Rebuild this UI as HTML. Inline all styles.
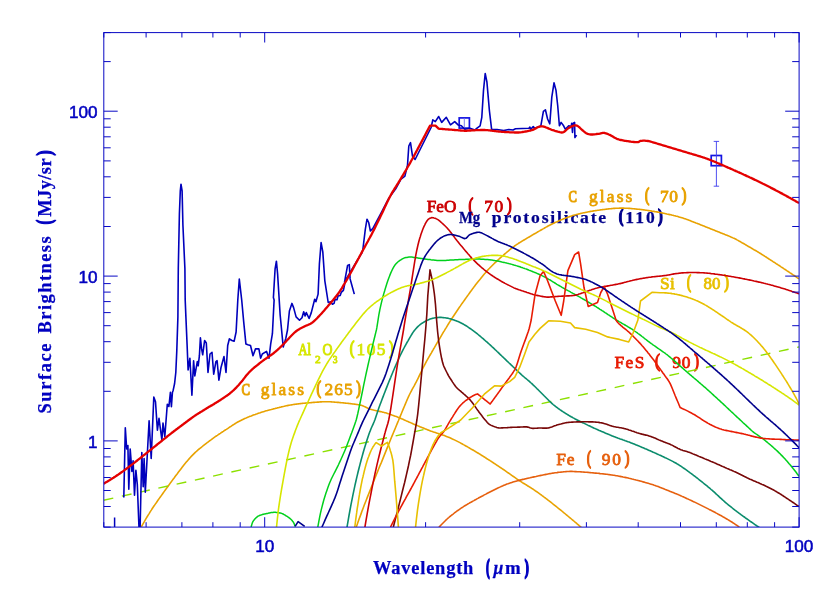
<!DOCTYPE html>
<html><head><meta charset="utf-8"><title>Surface Brightness vs Wavelength</title>
<style>html,body{margin:0;padding:0;background:#fff;}body{width:830px;height:593px;overflow:hidden;font-family:"Liberation Sans",sans-serif;}svg{display:block;}</style></head>
<body>
<svg width="830" height="593" viewBox="0 0 830 593">
<defs><clipPath id="pc"><rect x="103.8" y="32.6" width="695.3" height="494.5"/></clipPath></defs>
<rect width="830" height="593" fill="#ffffff"/>
<g style="opacity:0.999">
<text transform="translate(426.80,211.5) scale(0.990,1)" font-family="Liberation Serif, serif" font-size="17.4" font-weight="normal" fill="#cc0004" stroke="#cc0004" stroke-width="0.81" stroke-linejoin="round">FeO</text><text transform="translate(468.60,210.6) scale(0.750,1)" font-family="Liberation Serif, serif" font-size="19.0" font-weight="normal" fill="#cc0004" stroke="#cc0004" stroke-width="1.45" stroke-linejoin="round">(</text><text transform="translate(484.30,211.5) scale(1.000,1)" font-family="Liberation Serif, serif" font-size="17.4" font-weight="normal" fill="#cc0004" stroke="#cc0004" stroke-width="0.80" stroke-linejoin="round" letter-spacing="1.60">70</text><text transform="translate(507.00,210.6) scale(0.733,1)" font-family="Liberation Serif, serif" font-size="19.0" font-weight="normal" fill="#cc0004" stroke="#cc0004" stroke-width="1.50" stroke-linejoin="round">)</text>
<text transform="translate(458.93,222.9) scale(0.834,1)" font-family="Liberation Serif, serif" font-size="17.6" font-weight="bold" fill="#00008c" stroke="#00008c" stroke-width="0.32" stroke-linejoin="round">Mg</text><text transform="translate(491.82,222.9) scale(1.000,1)" font-family="Liberation Serif, serif" font-size="17.6" font-weight="bold" fill="#00008c" stroke="#00008c" stroke-width="0.25" stroke-linejoin="round" letter-spacing="1.82">protosilicate</text><text transform="translate(618.77,222.4) scale(0.742,1)" font-family="Liberation Serif, serif" font-size="19.2" font-weight="bold" fill="#00008c" stroke="#00008c" stroke-width="1.40" stroke-linejoin="round">(</text><text transform="translate(625.32,222.9) scale(1.000,1)" font-family="Liberation Serif, serif" font-size="17.6" font-weight="bold" fill="#00008c" stroke="#00008c" stroke-width="0.25" stroke-linejoin="round" letter-spacing="2.01">110</text><text transform="translate(658.08,222.4) scale(0.742,1)" font-family="Liberation Serif, serif" font-size="19.2" font-weight="bold" fill="#00008c" stroke="#00008c" stroke-width="1.40" stroke-linejoin="round">)</text>
<text transform="translate(568.60,201.8) scale(0.727,1)" font-family="Liberation Serif, serif" font-size="17.4" font-weight="normal" fill="#e8a200" stroke="#e8a200" stroke-width="1.21" stroke-linejoin="round">C</text><text transform="translate(588.90,201.8) scale(1.000,1)" font-family="Liberation Serif, serif" font-size="17.4" font-weight="normal" fill="#e8a200" stroke="#e8a200" stroke-width="0.80" stroke-linejoin="round" letter-spacing="2.17">glass</text><text transform="translate(645.00,200.9) scale(0.667,1)" font-family="Liberation Serif, serif" font-size="19.0" font-weight="normal" fill="#e8a200" stroke="#e8a200" stroke-width="1.69" stroke-linejoin="round">(</text><text transform="translate(659.90,201.8) scale(1.000,1)" font-family="Liberation Serif, serif" font-size="17.4" font-weight="normal" fill="#e8a200" stroke="#e8a200" stroke-width="0.80" stroke-linejoin="round" letter-spacing="0.70">70</text><text transform="translate(681.70,200.9) scale(0.733,1)" font-family="Liberation Serif, serif" font-size="19.0" font-weight="normal" fill="#e8a200" stroke="#e8a200" stroke-width="1.50" stroke-linejoin="round">)</text>
<text transform="translate(660.10,288.8) scale(1.000,1)" font-family="Liberation Serif, serif" font-size="17.4" font-weight="normal" fill="#e8c000" stroke="#e8c000" stroke-width="0.80" stroke-linejoin="round" letter-spacing="0.13">Si</text><text transform="translate(687.10,287.9) scale(0.633,1)" font-family="Liberation Serif, serif" font-size="19.0" font-weight="normal" fill="#e8c000" stroke="#e8c000" stroke-width="1.81" stroke-linejoin="round">(</text><text transform="translate(703.60,288.8) scale(0.972,1)" font-family="Liberation Serif, serif" font-size="17.4" font-weight="normal" fill="#e8c000" stroke="#e8c000" stroke-width="0.83" stroke-linejoin="round">80</text><text transform="translate(724.20,287.9) scale(0.733,1)" font-family="Liberation Serif, serif" font-size="19.0" font-weight="normal" fill="#e8c000" stroke="#e8c000" stroke-width="1.50" stroke-linejoin="round">)</text>
<text transform="translate(614.60,368.3) scale(1.000,1)" font-family="Liberation Serif, serif" font-size="17.4" font-weight="normal" fill="#e81c04" stroke="#e81c04" stroke-width="0.80" stroke-linejoin="round" letter-spacing="1.35">FeS</text><text transform="translate(655.10,367.4) scale(0.783,1)" font-family="Liberation Serif, serif" font-size="19.0" font-weight="normal" fill="#e81c04" stroke="#e81c04" stroke-width="1.37" stroke-linejoin="round">(</text><text transform="translate(672.20,368.3) scale(1.000,1)" font-family="Liberation Serif, serif" font-size="17.4" font-weight="normal" fill="#e81c04" stroke="#e81c04" stroke-width="0.80" stroke-linejoin="round" letter-spacing="0.90">90</text><text transform="translate(694.20,367.4) scale(0.733,1)" font-family="Liberation Serif, serif" font-size="19.0" font-weight="normal" fill="#e81c04" stroke="#e81c04" stroke-width="1.50" stroke-linejoin="round">)</text>
<text transform="translate(556.30,465.3) scale(1.000,1)" font-family="Liberation Serif, serif" font-size="17.4" font-weight="normal" fill="#e6600e" stroke="#e6600e" stroke-width="0.80" stroke-linejoin="round" letter-spacing="0.73">Fe</text><text transform="translate(587.10,464.4) scale(0.617,1)" font-family="Liberation Serif, serif" font-size="19.0" font-weight="normal" fill="#e6600e" stroke="#e6600e" stroke-width="1.87" stroke-linejoin="round">(</text><text transform="translate(601.80,465.3) scale(1.000,1)" font-family="Liberation Serif, serif" font-size="17.4" font-weight="normal" fill="#e6600e" stroke="#e6600e" stroke-width="0.80" stroke-linejoin="round" letter-spacing="1.80">90</text><text transform="translate(624.70,464.4) scale(0.733,1)" font-family="Liberation Serif, serif" font-size="19.0" font-weight="normal" fill="#e6600e" stroke="#e6600e" stroke-width="1.50" stroke-linejoin="round">)</text>
<text transform="translate(241.40,394.9) scale(0.736,1)" font-family="Liberation Serif, serif" font-size="17.4" font-weight="normal" fill="#e8a200" stroke="#e8a200" stroke-width="1.19" stroke-linejoin="round">C</text><text transform="translate(260.80,394.9) scale(1.000,1)" font-family="Liberation Serif, serif" font-size="17.4" font-weight="normal" fill="#e8a200" stroke="#e8a200" stroke-width="0.80" stroke-linejoin="round" letter-spacing="2.10">glass</text><text transform="translate(316.60,394.0) scale(0.733,1)" font-family="Liberation Serif, serif" font-size="19.0" font-weight="normal" fill="#e8a200" stroke="#e8a200" stroke-width="1.50" stroke-linejoin="round">(</text><text transform="translate(324.40,394.9) scale(1.000,1)" font-family="Liberation Serif, serif" font-size="17.4" font-weight="normal" fill="#e8a200" stroke="#e8a200" stroke-width="0.80" stroke-linejoin="round" letter-spacing="1.05">265</text><text transform="translate(356.30,394.0) scale(0.733,1)" font-family="Liberation Serif, serif" font-size="19.0" font-weight="normal" fill="#e8a200" stroke="#e8a200" stroke-width="1.50" stroke-linejoin="round">)</text>
<text transform="translate(298.60,354.5) scale(0.712,1)" font-family="Liberation Serif, serif" font-size="17.4" font-weight="normal" fill="#d6e600" stroke="#d6e600" stroke-width="1.24" stroke-linejoin="round">Al</text><text transform="translate(322.50,354.5) scale(0.792,1)" font-family="Liberation Serif, serif" font-size="17.4" font-weight="normal" fill="#d6e600" stroke="#d6e600" stroke-width="1.08" stroke-linejoin="round">O</text><text transform="translate(349.80,353.6) scale(0.733,1)" font-family="Liberation Serif, serif" font-size="19.0" font-weight="normal" fill="#d6e600" stroke="#d6e600" stroke-width="1.50" stroke-linejoin="round">(</text><text transform="translate(356.60,354.5) scale(1.000,1)" font-family="Liberation Serif, serif" font-size="17.4" font-weight="normal" fill="#d6e600" stroke="#d6e600" stroke-width="0.80" stroke-linejoin="round" letter-spacing="1.35">105</text><text transform="translate(389.10,353.6) scale(0.733,1)" font-family="Liberation Serif, serif" font-size="19.0" font-weight="normal" fill="#d6e600" stroke="#d6e600" stroke-width="1.50" stroke-linejoin="round">)</text>
<text transform="translate(314.90,362.9) scale(1.040,1)" font-family="Liberation Serif, serif" font-size="11.0" font-weight="normal" fill="#d6e600" stroke="#d6e600" stroke-width="0.80" stroke-linejoin="round">2</text><text transform="translate(332.80,362.9) scale(0.867,1)" font-family="Liberation Serif, serif" font-size="11.0" font-weight="normal" fill="#d6e600" stroke="#d6e600" stroke-width="0.96" stroke-linejoin="round">3</text>
</g>
<g fill="none">
<rect x="459.20" y="117.90" width="10.2" height="10.2" fill="none" stroke="#1414e2" stroke-width="1.7"/>
<path d="M464.3 118 V128" stroke="#7070ea" stroke-width="0.9"/>
<rect x="711.20" y="155.50" width="10.2" height="10.2" fill="none" stroke="#1414e2" stroke-width="1.7"/>
<path d="M716.4 141.4 V186.2 M713.7 141.4 h5.4 M713.7 186.2 h5.4" stroke="#3c3cee" stroke-width="0.9"/>
</g>
<g clip-path="url(#pc)" fill="none" stroke-linejoin="round" stroke-linecap="butt">
<path d="M141.3 526.9 L142.3 525.1 L143.3 523.4 L144.3 521.7 L145.3 519.9 L146.3 518.2 L147.3 516.5 L148.3 514.9 L149.3 513.3 L150.3 511.6 L151.3 510.1 L152.3 508.5 L153.3 507.0 L154.0 506.0 L154.3 505.6 L155.3 504.1 L156.3 502.7 L157.3 501.2 L158.3 499.8 L159.3 498.4 L160.3 497.0 L161.3 495.6 L162.3 494.2 L163.3 492.8 L164.3 491.4 L165.3 490.0 L166.3 488.6 L167.3 487.2 L168.3 485.9 L168.5 485.6 L169.3 484.5 L170.3 483.1 L171.3 481.8 L172.3 480.4 L173.3 479.0 L174.3 477.7 L175.3 476.3 L176.3 475.0 L177.3 473.7 L178.3 472.3 L179.3 471.0 L180.3 469.7 L181.3 468.4 L182.3 467.1 L182.6 466.7 L183.3 465.8 L184.3 464.5 L185.3 463.3 L186.3 462.1 L187.3 460.9 L188.3 459.7 L189.3 458.6 L190.3 457.5 L191.3 456.4 L192.3 455.4 L193.3 454.4 L194.3 453.4 L195.3 452.4 L196.3 451.5 L197.3 450.6 L198.3 449.7 L199.2 449.0 L199.3 448.9 L200.3 448.1 L201.3 447.3 L202.3 446.5 L203.3 445.7 L204.3 444.9 L205.3 444.1 L206.3 443.3 L207.3 442.5 L208.3 441.8 L209.3 441.0 L210.3 440.3 L211.3 439.6 L212.3 438.8 L213.3 438.1 L214.3 437.4 L215.3 436.7 L216.3 436.0 L217.3 435.4 L218.0 434.9 L218.3 434.7 L219.3 434.0 L220.3 433.4 L221.3 432.7 L222.3 432.0 L223.3 431.4 L224.3 430.7 L225.3 430.0 L226.3 429.4 L227.2 428.8 L227.3 428.7 L228.3 428.1 L229.3 427.4 L230.3 426.7 L231.3 426.1 L232.3 425.4 L233.3 424.8 L234.3 424.1 L234.5 424.0 L235.3 423.5 L236.3 422.9 L237.3 422.3 L238.3 421.7 L239.3 421.2 L240.3 420.7 L241.3 420.2 L241.7 420.0 L242.3 419.7 L243.3 419.2 L244.3 418.7 L245.3 418.3 L246.3 417.9 L247.3 417.4 L248.3 417.0 L248.9 416.8 L249.3 416.6 L250.3 416.2 L251.3 415.9 L252.3 415.5 L253.3 415.1 L254.3 414.7 L255.3 414.4 L256.3 414.0 L257.3 413.7 L258.3 413.3 L259.3 413.0 L260.3 412.7 L261.3 412.3 L262.3 412.0 L263.3 411.7 L263.4 411.7 L264.3 411.4 L265.3 411.1 L266.3 410.8 L267.3 410.6 L268.3 410.3 L269.3 410.0 L270.3 409.7 L271.3 409.5 L272.3 409.2 L273.3 408.9 L274.3 408.7 L275.3 408.4 L276.3 408.2 L277.3 407.9 L277.8 407.8 L278.3 407.7 L279.3 407.4 L280.3 407.2 L281.3 406.9 L282.3 406.7 L283.3 406.5 L284.3 406.3 L285.3 406.0 L286.3 405.8 L287.3 405.6 L288.3 405.4 L289.3 405.2 L290.3 405.0 L291.3 404.9 L292.3 404.7 L292.3 404.7 L293.3 404.5 L294.3 404.4 L295.3 404.3 L296.3 404.1 L297.3 404.0 L298.3 403.9 L299.3 403.8 L300.3 403.6 L301.3 403.5 L302.3 403.4 L303.3 403.3 L304.3 403.2 L305.3 403.1 L306.3 403.0 L306.7 403.0 L307.3 402.9 L308.3 402.9 L309.3 402.8 L310.3 402.7 L311.3 402.6 L312.3 402.5 L313.3 402.4 L314.3 402.4 L315.3 402.3 L316.3 402.2 L317.3 402.1 L318.3 402.1 L319.3 402.0 L320.3 401.9 L321.2 401.9 L321.3 401.9 L322.3 401.8 L323.3 401.8 L324.3 401.8 L325.3 401.7 L326.3 401.7 L327.3 401.7 L328.3 401.7 L329.3 401.8 L329.9 401.8 L330.3 401.8 L331.3 401.9 L332.3 402.0 L333.3 402.0 L334.3 402.1 L335.3 402.2 L336.3 402.3 L337.3 402.4 L338.3 402.4 L339.3 402.5 L340.0 402.6 L340.3 402.6 L341.3 402.7 L342.3 402.8 L343.3 402.9 L344.3 403.0 L345.3 403.1 L346.3 403.2 L347.3 403.3 L348.2 403.4 L348.3 403.4 L349.3 403.5 L350.3 403.6 L351.3 403.7 L352.3 403.9 L353.3 404.0 L354.3 404.1 L355.3 404.2 L356.3 404.4 L357.3 404.5 L358.3 404.7 L359.3 404.9 L360.0 405.0 L360.3 405.1 L361.4 405.3 L362.4 405.7 L363.4 406.1 L364.4 406.6 L365.4 407.0 L366.4 407.5 L367.4 408.0 L368.4 408.5 L369.4 408.9 L370.4 409.2 L370.6 409.3 L371.4 409.5 L372.4 409.8 L373.4 410.0 L374.4 410.3 L375.4 410.5 L376.4 410.7 L377.4 411.0 L378.4 411.2 L379.4 411.4 L380.4 411.6 L381.4 411.8 L382.4 412.1 L383.4 412.3 L384.4 412.6 L385.4 412.8 L386.4 413.1 L387.4 413.5 L387.5 413.5 L388.4 413.8 L389.4 414.1 L390.4 414.5 L391.4 414.8 L392.4 415.2 L393.4 415.5 L394.4 415.9 L395.4 416.3 L396.4 416.6 L397.4 417.0 L398.4 417.4 L399.4 417.8 L400.4 418.2 L401.0 418.5 L401.4 418.7 L402.4 419.1 L403.4 419.5 L404.4 420.0 L405.4 420.4 L406.4 420.9 L407.4 421.3 L408.4 421.7 L409.4 422.2 L410.4 422.6 L411.4 423.1 L412.4 423.5 L413.4 424.0 L414.4 424.4 L414.4 424.4 L415.4 424.8 L416.4 425.2 L417.4 425.6 L418.4 426.1 L419.4 426.5 L420.4 426.9 L421.4 427.3 L422.4 427.7 L423.4 428.1 L424.4 428.5 L425.4 428.9 L426.4 429.3 L427.4 429.7 L428.0 430.0 L428.4 430.1 L429.4 430.5 L430.4 430.9 L431.4 431.3 L432.4 431.6 L433.4 432.0 L434.4 432.3 L435.4 432.6 L436.4 432.9 L437.4 433.3 L438.4 433.6 L439.4 433.9 L440.4 434.2 L441.4 434.6 L442.4 434.9 L443.4 435.2 L444.4 435.6 L445.4 436.0 L446.4 436.4 L447.2 436.7 L447.4 436.8 L448.4 437.2 L449.4 437.6 L450.4 438.0 L451.4 438.5 L452.4 439.0 L453.4 439.4 L454.4 439.9 L455.4 440.4 L456.4 440.9 L457.4 441.4 L458.4 441.9 L459.4 442.4 L460.4 442.9 L461.4 443.5 L462.4 444.0 L463.4 444.6 L464.4 445.1 L465.4 445.7 L466.4 446.3 L467.4 446.8 L467.5 446.9 L468.4 447.4 L469.4 448.0 L470.4 448.6 L471.4 449.2 L472.4 449.7 L473.4 450.3 L474.4 450.9 L475.4 451.5 L476.4 452.1 L477.4 452.7 L478.4 453.3 L479.4 453.9 L480.4 454.5 L481.4 455.2 L482.4 455.8 L483.4 456.4 L484.3 457.0 L484.4 457.0 L485.4 457.7 L486.4 458.3 L487.4 459.0 L488.4 459.6 L489.4 460.2 L490.4 460.9 L491.4 461.5 L492.4 462.2 L493.4 462.8 L494.4 463.5 L495.4 464.1 L496.4 464.8 L497.4 465.5 L498.4 466.1 L499.4 466.8 L500.4 467.5 L501.2 468.0 L501.4 468.1 L502.4 468.8 L503.4 469.5 L504.4 470.2 L505.4 470.9 L506.4 471.6 L507.4 472.3 L508.4 473.0 L509.4 473.7 L510.4 474.4 L511.4 475.1 L512.4 475.8 L513.4 476.5 L514.4 477.2 L515.4 477.9 L516.4 478.6 L517.4 479.3 L518.1 479.8 L518.4 480.0 L519.4 480.7 L520.4 481.3 L521.4 481.9 L522.4 482.6 L523.4 483.2 L524.4 483.8 L525.4 484.4 L526.4 485.0 L527.4 485.7 L528.4 486.3 L529.4 486.9 L530.4 487.5 L531.4 488.1 L532.4 488.8 L533.4 489.4 L534.4 490.1 L535.0 490.5 L535.4 490.8 L536.4 491.5 L537.4 492.2 L538.4 492.9 L539.4 493.6 L540.4 494.3 L541.4 495.0 L542.4 495.8 L543.4 496.5 L544.4 497.3 L545.4 498.0 L546.4 498.8 L546.9 499.2 L547.4 499.6 L548.4 500.4 L549.4 501.1 L550.4 501.9 L551.4 502.7 L552.4 503.5 L553.4 504.3 L554.4 505.1 L555.4 505.9 L556.4 506.7 L557.4 507.5 L558.4 508.3 L559.4 509.1 L560.4 509.9 L561.4 510.7 L562.4 511.5 L563.4 512.3 L563.7 512.6 L564.4 513.2 L565.4 514.0 L566.4 514.8 L567.4 515.7 L568.4 516.5 L569.4 517.3 L570.4 518.2 L571.4 519.0 L572.4 519.8 L573.4 520.7 L574.4 521.5 L575.4 522.4 L576.4 523.2 L577.4 524.1 L578.4 524.9 L579.4 525.8 L580.4 526.6 L581.4 527.5" stroke="#e8a200" stroke-width="1.6" />
<path d="M356.2 527.2 L357.2 524.4 L358.2 521.6 L359.2 518.8 L360.2 516.1 L361.2 513.4 L362.2 510.6 L363.2 508.0 L364.2 505.3 L365.2 502.7 L366.2 500.2 L366.4 499.7 L367.2 497.6 L368.2 495.1 L369.2 492.6 L370.2 490.1 L371.2 487.6 L372.2 485.0 L373.2 482.5 L374.2 480.0 L375.2 477.5 L376.2 475.0 L377.2 472.5 L377.5 471.9 L378.2 470.0 L379.2 467.5 L380.2 465.1 L381.3 462.6 L382.3 460.1 L383.3 457.6 L384.3 455.1 L385.3 452.6 L386.3 450.1 L387.3 447.6 L388.3 445.2 L388.7 444.1 L389.3 442.7 L390.3 440.3 L391.3 437.8 L392.3 435.4 L393.3 433.0 L394.3 430.6 L395.3 428.2 L396.3 425.8 L397.3 423.4 L397.9 421.9 L398.3 421.0 L399.3 418.5 L400.3 416.1 L401.3 413.7 L402.3 411.3 L403.3 408.9 L404.3 406.5 L405.3 404.1 L406.3 401.7 L407.3 399.4 L407.7 398.5 L408.3 397.1 L409.3 395.0 L410.3 393.0 L411.3 391.1 L412.3 389.2 L413.3 387.4 L414.3 385.6 L415.3 383.7 L416.3 381.8 L416.9 380.7 L417.3 379.8 L418.3 377.8 L419.3 375.7 L420.3 373.6 L421.3 371.6 L422.3 369.5 L423.3 367.5 L424.3 365.5 L424.6 365.0 L425.3 363.6 L426.3 361.7 L427.3 359.9 L428.3 358.1 L429.3 356.3 L430.4 354.5 L431.4 352.8 L432.4 351.0 L433.4 349.3 L433.7 348.7 L434.4 347.6 L435.4 345.8 L436.4 344.1 L437.4 342.4 L438.4 340.7 L439.4 339.0 L440.4 337.3 L441.4 335.6 L442.4 333.9 L443.4 332.2 L444.4 330.6 L445.4 328.9 L446.4 327.3 L447.4 325.6 L448.4 324.0 L449.4 322.4 L450.4 320.8 L450.6 320.5 L451.4 319.3 L452.4 317.7 L453.4 316.2 L454.4 314.7 L455.4 313.2 L456.4 311.7 L457.4 310.2 L458.4 308.7 L459.4 307.3 L460.4 305.9 L461.4 304.4 L462.4 303.0 L463.4 301.6 L464.4 300.2 L465.4 298.8 L466.4 297.4 L467.4 296.0 L467.5 295.9 L468.4 294.6 L469.4 293.2 L470.4 291.8 L471.4 290.5 L472.4 289.1 L473.4 287.8 L474.4 286.4 L475.4 285.1 L476.4 283.8 L477.4 282.5 L478.4 281.2 L479.5 279.9 L480.5 278.7 L481.5 277.4 L482.5 276.2 L483.5 275.0 L484.3 274.0 L484.5 273.8 L485.5 272.7 L486.5 271.5 L487.5 270.4 L488.5 269.3 L489.5 268.3 L490.5 267.2 L491.5 266.2 L492.5 265.2 L493.5 264.2 L494.5 263.2 L495.5 262.3 L496.5 261.4 L497.5 260.4 L498.5 259.5 L499.5 258.6 L500.5 257.7 L501.2 257.1 L501.5 256.8 L502.5 256.0 L503.5 255.1 L504.5 254.2 L505.5 253.3 L506.5 252.5 L507.5 251.6 L508.5 250.8 L509.5 249.9 L510.5 249.1 L511.5 248.3 L512.5 247.5 L513.5 246.8 L514.5 246.0 L515.5 245.3 L516.5 244.6 L517.5 244.0 L518.1 243.6 L518.5 243.3 L519.5 242.7 L520.5 242.1 L521.5 241.5 L522.5 240.9 L523.5 240.3 L524.5 239.7 L525.5 239.1 L526.5 238.5 L527.5 237.9 L528.6 237.3 L529.6 236.7 L530.6 236.1 L531.6 235.5 L532.6 234.9 L533.6 234.3 L534.6 233.8 L535.0 233.5 L535.6 233.2 L536.6 232.6 L537.6 232.0 L538.6 231.4 L539.6 230.9 L540.6 230.3 L541.6 229.7 L542.6 229.1 L543.6 228.6 L544.6 228.0 L545.6 227.4 L546.6 226.9 L546.9 226.7 L547.6 226.3 L548.6 225.8 L549.6 225.3 L550.6 224.8 L551.6 224.3 L552.6 223.8 L553.6 223.3 L554.6 222.8 L555.6 222.3 L556.6 221.9 L557.0 221.7 L557.6 221.4 L558.6 221.0 L559.6 220.5 L560.6 220.1 L561.6 219.7 L562.6 219.3 L563.6 218.8 L564.6 218.5 L565.6 218.1 L566.6 217.7 L567.6 217.3 L568.6 217.0 L569.6 216.6 L570.0 216.5 L570.6 216.3 L571.6 216.0 L572.6 215.6 L573.6 215.3 L574.6 215.0 L575.6 214.8 L576.6 214.5 L577.6 214.2 L578.7 213.9 L579.7 213.7 L580.7 213.4 L581.7 213.2 L582.7 213.0 L583.7 212.8 L584.7 212.6 L585.0 212.5 L585.7 212.4 L586.7 212.2 L587.7 212.0 L588.7 211.8 L589.7 211.6 L590.7 211.4 L591.7 211.3 L592.7 211.1 L593.7 210.9 L594.7 210.8 L595.7 210.6 L596.7 210.5 L597.7 210.3 L598.7 210.2 L599.7 210.0 L600.0 210.0 L600.7 209.9 L601.7 209.8 L602.7 209.6 L603.7 209.5 L604.7 209.4 L605.7 209.2 L606.7 209.1 L607.7 209.0 L608.7 208.9 L609.7 208.8 L610.7 208.7 L611.7 208.6 L612.7 208.5 L613.7 208.4 L614.7 208.4 L615.7 208.3 L616.7 208.2 L617.7 208.2 L617.7 208.2 L618.7 208.2 L619.7 208.1 L620.7 208.1 L621.7 208.1 L622.7 208.1 L623.7 208.1 L624.7 208.2 L625.7 208.2 L626.7 208.2 L627.8 208.3 L628.8 208.4 L629.8 208.4 L630.8 208.5 L631.8 208.6 L632.8 208.7 L633.8 208.8 L634.8 208.9 L635.8 209.0 L636.8 209.1 L637.8 209.2 L638.0 209.2 L638.8 209.3 L639.8 209.4 L640.8 209.5 L641.8 209.6 L642.8 209.8 L643.8 209.9 L644.8 210.0 L645.8 210.2 L646.8 210.3 L647.8 210.5 L648.8 210.6 L649.8 210.7 L650.8 210.9 L651.8 211.1 L652.8 211.2 L653.8 211.4 L654.8 211.6 L655.8 211.7 L656.8 211.9 L657.8 212.1 L658.8 212.3 L659.8 212.5 L660.8 212.7 L661.8 212.9 L662.8 213.1 L663.3 213.2 L663.8 213.3 L664.8 213.5 L665.8 213.7 L666.8 214.0 L667.8 214.2 L668.8 214.4 L669.8 214.6 L670.8 214.8 L671.8 215.1 L672.8 215.3 L673.8 215.6 L674.8 215.8 L675.8 216.1 L676.9 216.3 L677.9 216.6 L678.9 216.9 L679.9 217.2 L680.9 217.5 L681.9 217.8 L682.9 218.1 L683.9 218.4 L684.9 218.7 L685.9 219.1 L686.9 219.4 L687.9 219.8 L688.6 220.1 L688.9 220.2 L689.9 220.6 L690.9 221.0 L691.9 221.4 L692.9 221.8 L693.9 222.2 L694.9 222.6 L695.9 223.0 L696.9 223.3 L697.9 223.7 L698.9 224.1 L699.9 224.5 L700.9 224.9 L701.9 225.3 L702.9 225.7 L703.9 226.1 L704.9 226.5 L705.9 226.9 L706.9 227.3 L707.9 227.7 L708.9 228.1 L709.9 228.5 L710.9 228.9 L711.9 229.3 L712.9 229.7 L713.9 230.1 L713.9 230.1 L714.9 230.5 L715.9 230.9 L716.9 231.3 L717.9 231.7 L718.9 232.1 L719.9 232.5 L720.9 232.9 L721.9 233.3 L722.9 233.7 L723.9 234.1 L724.9 234.5 L726.0 234.9 L727.0 235.3 L728.0 235.7 L729.0 236.1 L730.0 236.6 L730.8 236.9 L731.0 237.0 L732.0 237.4 L733.0 237.9 L734.0 238.3 L735.0 238.8 L736.0 239.3 L737.0 239.9 L738.0 240.4 L739.0 241.0 L740.0 241.5 L741.0 242.1 L742.0 242.7 L743.0 243.2 L744.0 243.8 L745.0 244.4 L746.0 245.0 L747.0 245.6 L747.7 246.0 L748.0 246.2 L749.0 246.8 L750.0 247.3 L751.0 247.9 L752.0 248.5 L753.0 249.1 L754.0 249.7 L755.0 250.2 L756.0 250.8 L757.0 251.4 L758.0 252.0 L759.0 252.6 L760.0 253.2 L761.0 253.8 L762.0 254.5 L763.0 255.1 L764.0 255.7 L764.6 256.1 L765.0 256.4 L766.0 257.0 L767.0 257.7 L768.0 258.3 L769.0 259.0 L770.0 259.6 L771.0 260.3 L772.0 260.9 L773.0 261.6 L774.0 262.2 L775.1 262.9 L776.1 263.6 L777.1 264.2 L778.1 264.9 L779.1 265.5 L780.1 266.2 L781.1 266.9 L781.4 267.1 L782.1 267.5 L783.1 268.2 L784.1 268.9 L785.1 269.5 L786.1 270.2 L787.1 270.9 L788.1 271.5 L789.1 272.2 L790.1 272.9 L791.1 273.5 L792.1 274.2 L793.1 274.9 L794.1 275.5 L795.1 276.2 L796.1 276.9 L797.1 277.6 L798.1 278.2 L799.1 278.9" stroke="#e8a200" stroke-width="1.6" />
<path d="M103.6 500.2 L799.2 346.9" stroke="#8ce000" stroke-width="1.4" stroke-dasharray="9.9 8.79"/>
<path d="M251.1 527.0 L251.6 525.2 L252.1 523.6 L252.6 522.2 L252.9 521.6 L253.1 521.3 L253.6 520.6 L254.1 519.9 L254.6 519.3 L255.1 518.7 L255.6 518.2 L256.1 517.7 L256.6 517.3 L257.1 516.9 L257.6 516.5 L258.1 516.2 L258.6 515.9 L259.1 515.7 L259.5 515.5 L259.6 515.5 L260.1 515.3 L260.6 515.1 L261.1 514.9 L261.6 514.8 L262.1 514.6 L262.6 514.5 L263.1 514.3 L263.6 514.2 L264.1 514.1 L264.6 514.0 L265.1 513.9 L265.6 513.8 L266.1 513.7 L266.6 513.6 L267.1 513.5 L267.6 513.4 L268.1 513.3 L268.6 513.1 L269.1 513.0 L269.6 512.9 L270.1 512.8 L270.6 512.7 L271.1 512.6 L271.6 512.6 L272.1 512.5 L272.6 512.4 L273.1 512.4 L273.6 512.3 L274.1 512.3 L274.6 512.3 L275.1 512.3 L275.6 512.3 L276.1 512.4 L276.6 512.4 L277.1 512.5 L277.6 512.5 L278.1 512.6 L278.6 512.7 L279.1 512.8 L279.6 512.9 L280.1 513.0 L280.6 513.1 L281.1 513.2 L281.6 513.4 L282.1 513.6 L282.6 513.8 L283.1 514.0 L283.6 514.3 L284.1 514.6 L284.6 514.9 L285.1 515.2 L285.6 515.5 L286.1 515.8 L286.6 516.1 L287.1 516.4 L287.6 516.7 L288.1 517.1 L288.6 517.4 L289.1 517.8 L289.6 518.2 L290.1 518.6 L290.6 519.0 L291.1 519.5 L291.4 519.8 L291.6 520.0 L292.1 520.5 L292.6 521.2 L293.1 521.8 L293.6 522.6 L293.8 523.0 L294.1 523.6 L294.6 524.9 L295.1 526.4" stroke="#00d01c" stroke-width="1.5" />
<path d="M317.8 527.2 L318.8 521.6 L319.8 516.4 L320.8 511.7 L321.0 510.9 L321.8 507.6 L322.8 503.7 L323.8 500.0 L324.8 496.7 L325.6 494.2 L325.8 493.6 L326.8 490.7 L327.8 487.8 L328.8 485.1 L329.8 482.5 L330.8 480.2 L331.2 479.3 L331.8 478.0 L332.8 476.0 L333.8 474.0 L334.8 472.1 L335.8 470.2 L336.8 468.2 L337.8 466.2 L338.6 464.5 L338.8 464.0 L339.8 461.9 L340.8 459.7 L341.8 457.5 L342.8 455.3 L343.8 453.0 L344.8 450.7 L345.8 448.3 L346.0 447.8 L346.8 445.7 L347.8 443.1 L348.8 440.5 L349.8 437.8 L350.8 435.1 L351.6 433.0 L351.8 432.4 L352.8 429.8 L353.8 427.1 L354.8 424.3 L355.8 421.3 L356.2 420.0 L356.8 417.7 L357.8 413.5 L358.8 408.8 L359.8 404.0 L360.5 400.8 L360.8 399.3 L361.8 394.5 L362.8 389.6 L363.8 384.7 L364.8 379.9 L365.8 375.1 L366.8 370.5 L367.2 368.8 L367.8 366.0 L368.8 361.7 L369.8 357.4 L370.8 353.1 L371.8 348.9 L372.3 346.9 L372.8 344.7 L373.8 340.5 L374.8 336.5 L375.8 332.4 L376.4 330.0 L376.8 327.9 L377.8 321.7 L378.8 315.2 L379.6 311.0 L379.8 309.9 L380.8 305.4 L381.8 301.2 L382.8 297.3 L383.8 293.6 L384.7 290.7 L384.8 290.2 L385.8 287.0 L386.8 283.8 L387.8 280.8 L388.8 278.0 L389.8 275.5 L389.8 275.4 L390.8 272.9 L391.8 270.7 L392.8 268.6 L393.8 266.8 L394.8 265.4 L394.8 265.3 L395.8 264.1 L396.8 263.0 L397.8 262.0 L398.9 261.2 L399.9 260.4 L399.9 260.4 L400.9 259.8 L401.9 259.2 L402.9 258.6 L403.9 258.1 L404.9 257.8 L404.9 257.8 L405.9 257.6 L406.9 257.4 L407.9 257.2 L408.9 257.1 L409.9 257.0 L410.9 257.0 L411.8 257.1 L411.9 257.1 L412.9 257.2 L413.9 257.4 L414.9 257.5 L415.9 257.7 L416.9 257.8 L417.9 258.0 L418.9 258.2 L419.9 258.3 L420.9 258.5 L421.9 258.6 L422.9 258.8 L423.9 258.9 L424.9 259.1 L425.3 259.1 L425.9 259.2 L426.9 259.3 L427.9 259.4 L428.9 259.5 L429.9 259.6 L430.9 259.8 L431.9 259.9 L432.9 260.0 L433.9 260.1 L434.9 260.2 L435.9 260.3 L436.9 260.4 L437.9 260.4 L438.9 260.5 L439.9 260.5 L440.9 260.5 L441.9 260.5 L442.2 260.5 L442.9 260.5 L443.9 260.4 L444.9 260.4 L445.9 260.4 L446.9 260.3 L447.9 260.3 L448.9 260.2 L449.9 260.1 L450.9 260.1 L451.9 260.0 L452.9 259.9 L453.9 259.9 L454.9 259.8 L455.9 259.8 L456.9 259.7 L457.9 259.7 L458.9 259.6 L459.0 259.6 L459.9 259.6 L460.9 259.5 L461.9 259.5 L462.9 259.4 L463.9 259.4 L464.9 259.4 L465.9 259.3 L466.9 259.3 L467.9 259.2 L468.9 259.2 L469.9 259.2 L470.9 259.1 L471.9 259.1 L472.5 259.1 L472.9 259.1 L473.9 259.1 L474.9 259.1 L475.9 259.1 L476.9 259.1 L477.9 259.1 L478.9 259.1 L479.9 259.1 L480.9 259.2 L481.9 259.2 L482.9 259.2 L483.9 259.3 L484.9 259.4 L485.9 259.4 L486.9 259.5 L487.7 259.6 L487.9 259.6 L488.9 259.7 L489.9 259.8 L490.9 260.0 L491.9 260.1 L492.9 260.2 L493.9 260.4 L494.9 260.6 L495.9 260.7 L496.9 260.9 L497.9 261.1 L498.9 261.3 L499.9 261.5 L500.9 261.7 L501.2 261.8 L501.9 262.0 L502.9 262.2 L503.9 262.4 L504.9 262.6 L505.9 262.9 L506.9 263.1 L507.9 263.4 L508.9 263.6 L509.9 263.9 L510.9 264.1 L511.9 264.4 L512.9 264.7 L513.9 265.0 L514.7 265.2 L514.9 265.3 L515.9 265.6 L516.9 265.9 L517.9 266.2 L518.9 266.5 L519.9 266.8 L520.9 267.2 L521.9 267.5 L522.9 267.9 L523.9 268.2 L524.9 268.6 L525.9 268.9 L526.9 269.3 L527.9 269.7 L528.2 269.8 L528.9 270.1 L529.9 270.5 L530.9 270.9 L531.9 271.3 L532.9 271.7 L533.9 272.1 L534.9 272.5 L535.9 272.9 L536.9 273.3 L537.9 273.8 L538.9 274.2 L539.9 274.7 L540.9 275.1 L541.9 275.6 L542.9 276.1 L543.9 276.6 L544.9 277.1 L545.9 277.7 L546.9 278.2 L546.9 278.2 L547.9 278.8 L548.9 279.4 L549.9 279.9 L550.9 280.5 L551.9 281.2 L552.9 281.8 L553.9 282.4 L554.9 283.0 L555.9 283.6 L556.9 284.3 L557.9 284.9 L559.0 285.5 L560.0 286.1 L561.0 286.7 L562.0 287.3 L563.0 287.9 L563.7 288.3 L564.0 288.4 L565.0 289.0 L566.0 289.6 L567.0 290.1 L568.0 290.7 L569.0 291.2 L570.0 291.7 L571.0 292.3 L572.0 292.8 L573.0 293.4 L574.0 293.9 L575.0 294.5 L576.0 295.0 L577.0 295.6 L578.0 296.1 L579.0 296.7 L580.0 297.2 L580.6 297.6 L581.0 297.8 L582.0 298.4 L583.0 299.0 L584.0 299.5 L585.0 300.1 L586.0 300.7 L587.0 301.3 L588.0 301.9 L589.0 302.5 L590.0 303.1 L591.0 303.7 L592.0 304.3 L593.0 304.9 L594.0 305.5 L595.0 306.1 L596.0 306.7 L597.0 307.4 L597.5 307.7 L598.0 308.0 L599.0 308.6 L600.0 309.3 L601.0 309.9 L602.0 310.6 L603.0 311.2 L604.0 311.9 L605.0 312.6 L606.0 313.2 L607.0 313.9 L608.0 314.6 L609.0 315.2 L610.0 315.9 L611.0 316.5 L612.0 317.2 L613.0 317.9 L614.0 318.5 L614.3 318.7 L615.0 319.1 L616.0 319.8 L617.0 320.4 L618.0 321.0 L619.0 321.6 L620.0 322.1 L621.0 322.7 L622.0 323.3 L623.0 323.9 L624.0 324.4 L625.0 325.0 L626.0 325.6 L627.0 326.2 L628.0 326.8 L629.0 327.4 L630.0 328.0 L631.0 328.6 L632.0 329.2 L633.0 329.9 L634.0 330.6 L634.6 331.0 L635.0 331.3 L636.0 332.0 L637.0 332.7 L638.0 333.5 L639.0 334.2 L640.0 334.9 L641.0 335.7 L642.0 336.5 L643.0 337.2 L644.0 338.0 L645.0 338.8 L646.0 339.5 L647.0 340.3 L648.0 341.1 L649.0 341.8 L650.0 342.6 L651.0 343.3 L651.4 343.6 L652.0 344.0 L653.0 344.8 L654.0 345.5 L655.0 346.2 L656.0 346.9 L657.0 347.6 L658.0 348.3 L659.0 349.0 L660.0 349.7 L661.0 350.4 L662.0 351.1 L663.0 351.8 L664.0 352.5 L665.0 353.2 L666.0 354.0 L667.0 354.7 L668.0 355.5 L669.0 356.3 L670.0 357.1 L670.0 357.1 L671.0 358.0 L672.0 358.8 L673.0 359.7 L674.0 360.5 L675.0 361.4 L676.0 362.3 L677.0 363.2 L678.0 364.1 L679.0 365.0 L680.0 365.8 L681.0 366.7 L682.0 367.6 L683.0 368.5 L684.0 369.4 L685.0 370.3 L685.3 370.5 L686.0 371.1 L687.0 372.0 L688.0 372.9 L689.0 373.7 L690.0 374.6 L691.0 375.4 L692.0 376.3 L693.0 377.1 L694.0 378.0 L695.0 378.8 L696.0 379.7 L697.0 380.5 L698.0 381.4 L699.0 382.3 L700.0 383.1 L701.0 384.0 L702.0 384.8 L703.0 385.7 L704.0 386.6 L705.0 387.4 L706.0 388.3 L707.0 389.2 L708.0 390.1 L709.0 391.0 L710.0 391.9 L710.6 392.4 L711.0 392.8 L712.0 393.7 L713.0 394.6 L714.0 395.6 L715.0 396.5 L716.0 397.4 L717.0 398.3 L718.0 399.3 L719.1 400.2 L720.1 401.1 L721.1 402.1 L722.1 403.0 L723.1 403.9 L724.1 404.9 L725.1 405.8 L726.1 406.8 L727.1 407.7 L728.1 408.6 L729.1 409.6 L730.1 410.5 L731.1 411.5 L732.1 412.4 L733.1 413.3 L734.1 414.3 L735.1 415.2 L735.9 416.0 L736.1 416.1 L737.1 417.1 L738.1 418.0 L739.1 418.9 L740.1 419.9 L741.1 420.8 L742.1 421.7 L743.1 422.7 L744.1 423.6 L745.1 424.5 L746.1 425.4 L747.1 426.4 L748.1 427.3 L749.1 428.2 L750.1 429.1 L751.0 430.0 L751.1 430.1 L752.1 431.0 L753.1 431.8 L754.1 432.6 L755.1 433.3 L756.1 434.0 L757.1 434.7 L758.1 435.4 L759.1 436.1 L760.1 436.8 L761.1 437.5 L762.1 438.2 L763.1 438.9 L764.1 439.7 L764.6 440.1 L765.1 440.5 L766.1 441.3 L767.1 442.1 L768.1 443.0 L769.1 443.8 L770.1 444.7 L771.1 445.5 L772.1 446.4 L773.1 447.3 L774.1 448.2 L775.1 449.1 L776.1 450.0 L777.1 450.9 L778.1 451.9 L778.1 451.9 L779.1 452.9 L780.1 453.8 L781.1 454.9 L782.1 455.9 L783.1 456.9 L784.1 458.0 L785.1 459.1 L786.1 460.2 L787.1 461.3 L788.1 462.5 L789.1 463.7 L789.9 464.6 L790.1 464.8 L791.1 466.0 L792.1 467.2 L793.1 468.5 L794.1 469.7 L795.1 471.0 L796.1 472.3 L797.1 473.7 L798.1 475.0 L799.1 476.4" stroke="#00d01c" stroke-width="1.5" />
<path d="M347.0 527.2 L348.0 521.3 L349.0 515.5 L350.0 510.0 L351.0 504.7 L351.6 501.6 L352.0 499.6 L353.0 494.6 L354.0 489.8 L355.0 485.1 L356.0 480.7 L357.0 476.4 L357.2 475.6 L358.0 472.3 L359.0 468.3 L360.0 464.4 L361.0 460.5 L362.0 456.9 L363.0 453.3 L364.0 449.8 L364.6 447.8 L365.0 446.4 L366.0 443.2 L367.0 440.0 L368.0 437.0 L369.0 434.1 L370.0 431.3 L370.1 431.1 L371.0 428.8 L372.0 426.5 L373.0 424.3 L374.0 422.0 L374.8 420.0 L375.0 419.4 L376.0 416.5 L377.0 413.4 L378.0 410.4 L379.0 407.6 L379.0 407.5 L380.0 404.8 L381.0 402.2 L382.0 399.5 L383.0 396.9 L384.0 394.3 L385.0 391.7 L386.0 389.1 L387.0 386.6 L388.0 384.0 L389.0 381.5 L390.0 379.1 L390.8 377.2 L391.0 376.6 L392.0 374.2 L393.0 371.8 L394.0 369.5 L395.0 367.1 L396.0 364.8 L397.0 362.6 L398.0 360.3 L399.0 358.2 L400.0 356.0 L401.0 354.0 L401.0 353.9 L402.0 351.9 L403.0 349.9 L404.0 348.0 L405.0 346.1 L406.0 344.3 L407.0 342.5 L408.0 340.8 L409.0 339.0 L409.4 338.4 L410.0 337.3 L411.0 335.6 L412.0 334.0 L413.0 332.4 L414.0 331.0 L415.0 329.7 L415.2 329.5 L416.1 328.5 L417.1 327.4 L418.1 326.4 L419.1 325.5 L420.1 324.7 L421.1 323.9 L422.1 323.2 L423.1 322.6 L424.1 322.0 L425.1 321.4 L425.3 321.3 L426.1 320.9 L427.1 320.4 L428.1 319.9 L429.1 319.5 L430.1 319.1 L431.1 318.7 L432.1 318.4 L433.0 318.2 L433.1 318.2 L434.1 318.0 L435.1 317.8 L436.1 317.7 L437.1 317.6 L438.1 317.5 L439.1 317.4 L440.1 317.4 L441.1 317.4 L442.0 317.5 L442.1 317.5 L443.1 317.6 L444.1 317.7 L445.1 317.8 L446.1 318.0 L447.1 318.1 L448.1 318.3 L449.1 318.6 L450.1 318.8 L451.1 319.1 L452.1 319.4 L453.1 319.7 L454.0 320.0 L454.1 320.0 L455.1 320.4 L456.1 320.8 L457.1 321.2 L458.1 321.6 L459.1 322.0 L460.1 322.5 L461.1 323.0 L462.1 323.5 L463.1 324.0 L464.1 324.6 L465.1 325.2 L466.1 325.8 L467.1 326.4 L467.5 326.7 L468.1 327.1 L469.1 327.8 L470.1 328.5 L471.1 329.2 L472.1 329.9 L473.1 330.6 L474.1 331.3 L475.1 332.1 L476.1 332.9 L477.1 333.7 L478.1 334.5 L479.1 335.3 L480.1 336.1 L481.0 336.9 L481.1 337.0 L482.1 337.9 L483.1 338.7 L484.1 339.6 L485.1 340.5 L486.1 341.4 L487.1 342.2 L488.1 343.1 L489.1 344.0 L490.1 344.9 L491.1 345.8 L492.1 346.8 L493.1 347.7 L494.1 348.6 L494.5 349.0 L495.1 349.6 L496.1 350.5 L497.1 351.5 L498.1 352.4 L499.1 353.4 L500.1 354.4 L501.1 355.3 L502.1 356.3 L503.1 357.2 L504.1 358.2 L505.1 359.1 L506.1 360.1 L507.1 361.1 L507.9 361.8 L508.1 362.0 L509.1 363.0 L510.1 363.9 L511.1 364.9 L512.1 365.8 L513.1 366.8 L514.1 367.7 L515.1 368.7 L516.1 369.6 L517.1 370.6 L518.1 371.5 L519.1 372.5 L520.1 373.4 L521.1 374.3 L521.4 374.6 L522.1 375.3 L523.1 376.2 L524.1 377.0 L525.1 377.9 L526.1 378.7 L527.1 379.5 L528.1 380.3 L529.1 381.2 L530.1 382.1 L531.1 383.0 L531.6 383.4 L532.1 383.9 L533.1 384.9 L534.1 385.8 L535.1 386.8 L536.1 387.8 L537.1 388.8 L538.1 389.7 L538.4 390.0 L539.1 390.7 L540.1 391.7 L541.1 392.7 L542.1 393.7 L543.1 394.7 L544.1 395.8 L545.1 396.8 L546.1 397.8 L547.1 398.8 L548.1 399.8 L549.1 400.8 L550.1 401.7 L550.2 401.8 L551.1 402.7 L552.1 403.6 L553.1 404.5 L554.2 405.4 L555.2 406.2 L556.2 407.0 L557.2 407.7 L558.2 408.5 L559.2 409.2 L560.2 409.9 L561.2 410.5 L562.0 411.1 L562.2 411.2 L563.2 411.9 L564.2 412.5 L565.2 413.1 L566.2 413.8 L567.2 414.4 L568.2 415.0 L569.2 415.6 L570.2 416.2 L571.2 416.8 L572.2 417.3 L573.2 417.9 L574.2 418.4 L575.2 419.0 L576.2 419.5 L577.2 420.0 L577.2 420.0 L578.2 420.5 L579.2 421.0 L580.2 421.5 L581.2 422.0 L582.2 422.5 L583.2 422.9 L584.2 423.4 L585.2 423.9 L586.2 424.4 L587.2 424.9 L588.2 425.4 L589.2 425.8 L590.2 426.3 L591.2 426.8 L592.2 427.2 L593.2 427.7 L594.2 428.2 L595.2 428.6 L596.2 429.1 L597.2 429.5 L598.2 429.9 L598.3 430.0 L599.2 430.4 L600.2 430.8 L601.2 431.3 L602.2 431.7 L603.2 432.1 L604.2 432.5 L605.2 433.0 L606.2 433.4 L607.2 433.8 L608.2 434.2 L609.2 434.6 L610.2 435.1 L611.2 435.5 L612.2 435.9 L613.2 436.3 L614.2 436.7 L614.3 436.7 L615.2 437.0 L616.2 437.4 L617.2 437.8 L618.2 438.2 L619.2 438.5 L620.2 438.9 L621.2 439.2 L622.2 439.6 L623.2 440.0 L624.2 440.3 L625.2 440.7 L626.2 441.0 L627.2 441.4 L628.2 441.8 L629.2 442.1 L630.2 442.5 L631.2 442.9 L631.2 442.9 L632.2 443.3 L633.2 443.7 L634.2 444.1 L635.2 444.5 L636.2 444.9 L637.2 445.3 L638.2 445.7 L639.2 446.1 L640.2 446.6 L641.2 447.0 L642.2 447.4 L643.2 447.8 L644.2 448.2 L645.2 448.7 L646.2 449.1 L647.2 449.5 L648.1 449.9 L648.2 450.0 L649.2 450.4 L650.2 450.8 L651.2 451.3 L652.2 451.7 L653.2 452.2 L654.2 452.6 L655.2 453.1 L656.2 453.5 L657.2 454.0 L658.2 454.4 L659.2 454.9 L660.2 455.3 L661.2 455.8 L662.2 456.3 L663.2 456.7 L663.4 456.8 L664.2 457.2 L665.2 457.7 L666.2 458.1 L667.2 458.6 L668.2 459.1 L669.2 459.6 L670.2 460.1 L671.2 460.6 L672.2 461.1 L673.2 461.6 L674.2 462.2 L675.2 462.7 L676.2 463.3 L676.9 463.7 L677.2 463.9 L678.2 464.5 L679.2 465.1 L680.2 465.8 L681.2 466.4 L682.2 467.1 L683.2 467.8 L684.2 468.5 L685.2 469.2 L686.2 469.9 L687.2 470.6 L688.2 471.4 L689.2 472.1 L690.2 472.9 L691.3 473.6 L692.3 474.4 L693.3 475.2 L693.7 475.5 L694.3 475.9 L695.3 476.7 L696.3 477.5 L697.3 478.2 L698.3 479.0 L699.3 479.8 L700.3 480.6 L701.3 481.4 L702.3 482.2 L703.3 483.0 L704.3 483.8 L705.3 484.6 L706.3 485.4 L707.3 486.2 L708.3 487.1 L709.3 487.9 L710.3 488.7 L710.6 489.0 L711.3 489.6 L712.3 490.4 L713.3 491.3 L714.3 492.2 L715.3 493.1 L716.3 494.1 L717.3 495.0 L718.3 495.9 L719.3 496.9 L720.3 497.8 L721.3 498.7 L722.3 499.6 L723.3 500.5 L724.3 501.4 L725.3 502.3 L726.3 503.2 L727.3 504.0 L727.5 504.2 L728.3 504.8 L729.3 505.6 L730.3 506.4 L731.3 507.2 L732.3 508.0 L733.3 508.8 L734.3 509.6 L735.3 510.4 L736.3 511.1 L737.3 511.9 L738.3 512.6 L739.3 513.4 L740.3 514.1 L741.3 514.9 L742.3 515.6 L743.3 516.3 L744.3 517.0 L745.2 517.7 L745.3 517.8 L746.3 518.5 L747.3 519.2 L748.3 519.9 L749.3 520.6 L750.3 521.3 L751.3 522.0 L752.3 522.7 L753.3 523.4 L754.3 524.1 L755.3 524.8 L756.3 525.5 L757.3 526.2 L758.3 526.8 L759.3 527.5" stroke="#0a8c6c" stroke-width="1.6" />
<path d="M393.3 527.2 L394.3 523.3 L395.3 519.4 L396.3 515.4 L397.4 511.5 L398.4 507.4 L399.4 503.4 L400.0 501.0 L400.4 499.4 L401.4 495.4 L402.4 491.3 L403.4 487.2 L404.5 483.0 L405.5 478.7 L406.5 474.4 L407.5 470.0 L408.4 466.0 L408.5 465.5 L409.5 460.6 L410.6 455.5 L411.6 450.1 L412.6 444.5 L413.6 438.9 L414.6 433.2 L415.2 430.0 L415.6 427.7 L416.6 421.8 L416.9 420.0 L417.7 414.1 L418.7 404.8 L419.7 394.4 L420.7 383.5 L421.7 372.6 L421.9 370.6 L422.7 361.9 L423.7 350.9 L424.8 339.5 L425.8 327.7 L426.4 320.0 L426.8 314.6 L427.8 295.9 L430.0 269.8 L432.0 279.0 L433.1 284.8 L434.3 293.4 L434.6 295.9 L435.5 304.7 L436.6 320.0 L437.6 331.5 L438.6 340.5 L438.8 341.9 L439.6 347.1 L440.6 353.1 L441.6 358.3 L442.6 362.6 L443.6 365.7 L443.9 366.4 L444.6 367.9 L445.6 370.0 L446.6 372.0 L447.6 374.0 L448.6 375.8 L449.6 377.5 L450.6 379.0 L450.6 379.0 L451.6 380.5 L452.6 382.1 L453.6 383.6 L454.6 385.1 L455.6 386.4 L456.6 387.6 L457.3 388.3 L457.6 388.6 L458.6 389.5 L459.6 390.4 L460.6 391.2 L461.6 392.1 L462.6 392.9 L463.6 393.8 L464.1 394.2 L464.6 394.7 L465.6 395.6 L466.6 396.5 L467.6 397.4 L468.6 398.4 L469.6 399.4 L470.0 399.8 L470.6 400.6 L471.6 401.8 L472.6 403.1 L473.7 404.5 L474.7 406.0 L475.7 407.4 L476.7 408.9 L477.7 410.3 L478.7 411.6 L478.7 411.7 L479.7 413.0 L480.7 414.3 L481.7 415.6 L482.7 416.9 L483.7 418.2 L484.7 419.4 L485.7 420.6 L486.7 421.8 L487.3 422.5 L487.7 422.9 L488.7 423.8 L489.7 424.5 L490.7 425.1 L491.7 425.6 L492.7 426.0 L493.7 426.3 L493.9 426.4 L494.7 426.7 L495.7 427.0 L496.7 427.4 L497.7 427.7 L498.7 427.9 L499.7 428.0 L500.4 428.0 L500.7 428.0 L501.7 427.9 L502.7 427.9 L503.7 427.8 L504.7 427.8 L505.7 427.7 L506.7 427.7 L507.7 427.6 L508.7 427.5 L509.7 427.5 L510.7 427.4 L511.7 427.4 L512.7 427.3 L513.4 427.3 L513.7 427.3 L514.7 427.2 L515.7 427.2 L516.7 427.2 L517.7 427.1 L518.7 427.1 L519.7 427.1 L520.7 427.0 L521.7 427.0 L522.7 427.0 L523.7 426.9 L524.7 426.9 L525.7 426.9 L526.4 426.9 L526.7 426.9 L527.7 427.1 L528.7 427.3 L529.7 427.7 L530.7 428.0 L531.7 428.3 L532.7 428.4 L532.9 428.4 L533.7 428.4 L534.7 428.3 L535.7 428.3 L536.7 428.2 L537.7 428.1 L538.7 428.0 L539.4 428.0 L539.7 428.0 L540.7 428.0 L541.7 428.0 L542.7 428.1 L543.7 428.1 L544.7 428.1 L545.8 428.1 L546.8 428.1 L547.8 428.0 L548.1 428.0 L548.8 427.9 L549.8 427.6 L550.8 427.3 L551.8 427.0 L552.8 426.6 L553.8 426.1 L554.8 425.7 L555.8 425.4 L556.7 425.1 L556.8 425.1 L557.8 424.8 L558.8 424.5 L559.8 424.2 L560.8 424.0 L561.8 423.7 L562.8 423.4 L563.8 423.2 L564.8 423.0 L565.8 422.8 L566.8 422.6 L567.6 422.5 L567.8 422.5 L568.8 422.4 L569.8 422.3 L570.8 422.2 L571.8 422.1 L572.8 422.1 L573.8 422.0 L574.8 422.0 L575.8 422.0 L576.8 421.9 L577.8 421.9 L578.4 421.9 L578.8 421.9 L579.8 421.9 L580.8 421.9 L581.8 421.8 L582.8 421.8 L583.8 421.8 L584.8 421.8 L585.8 421.8 L586.8 421.8 L587.8 421.8 L588.8 421.9 L589.8 421.9 L590.8 421.9 L591.4 421.9 L591.8 421.9 L592.8 421.9 L593.8 422.0 L594.8 422.0 L595.8 422.1 L596.8 422.2 L597.8 422.3 L598.8 422.4 L599.8 422.6 L600.8 422.7 L601.8 422.9 L602.3 423.0 L602.8 423.1 L603.8 423.4 L604.8 423.7 L605.8 424.0 L606.8 424.3 L607.8 424.7 L608.8 425.1 L609.8 425.4 L610.8 425.7 L611.8 426.1 L612.8 426.3 L613.1 426.4 L613.8 426.6 L614.8 426.8 L615.8 427.0 L616.8 427.2 L617.9 427.3 L618.9 427.5 L619.9 427.7 L620.9 427.8 L621.9 428.0 L622.9 428.2 L623.9 428.4 L624.9 428.7 L625.9 428.9 L626.1 429.0 L626.9 429.2 L627.9 429.5 L628.9 429.9 L629.9 430.2 L630.9 430.5 L631.9 430.9 L632.9 431.2 L633.9 431.6 L634.9 432.0 L635.9 432.3 L636.9 432.7 L637.9 433.0 L638.9 433.3 L639.2 433.4 L639.9 433.6 L640.9 433.9 L641.9 434.1 L642.9 434.4 L643.9 434.6 L644.9 434.9 L645.9 435.1 L646.9 435.3 L647.9 435.6 L648.9 435.9 L649.9 436.2 L650.9 436.5 L651.4 436.7 L651.9 436.9 L652.9 437.3 L653.9 437.7 L654.9 438.1 L655.9 438.5 L656.9 439.0 L657.9 439.4 L658.9 439.9 L659.9 440.3 L660.9 440.7 L661.6 441.0 L661.9 441.1 L662.9 441.5 L663.9 441.9 L664.9 442.3 L665.9 442.7 L666.9 443.1 L667.9 443.4 L668.9 443.8 L669.9 444.2 L670.1 444.3 L670.9 444.7 L671.9 445.1 L672.9 445.6 L673.9 446.2 L674.9 446.7 L675.9 447.3 L676.9 447.8 L677.9 448.4 L678.9 448.8 L679.9 449.3 L680.2 449.4 L680.9 449.7 L681.9 450.0 L682.9 450.4 L683.9 450.7 L684.9 451.0 L685.9 451.3 L686.9 451.6 L687.9 451.9 L688.9 452.2 L689.9 452.6 L690.4 452.8 L691.0 453.0 L692.0 453.4 L693.0 453.9 L694.0 454.3 L695.0 454.7 L696.0 455.1 L697.0 455.5 L698.0 455.9 L699.0 456.4 L700.0 456.8 L700.5 457.0 L701.0 457.2 L702.0 457.6 L703.0 458.0 L704.0 458.4 L705.0 458.9 L706.0 459.3 L707.0 459.7 L708.0 460.1 L709.0 460.5 L710.0 460.9 L710.6 461.2 L711.0 461.4 L712.0 461.8 L713.0 462.2 L714.0 462.6 L715.0 463.1 L716.0 463.5 L717.0 464.0 L718.0 464.4 L719.0 464.8 L720.0 465.3 L721.0 465.7 L722.0 466.2 L723.0 466.6 L724.0 467.1 L724.1 467.1 L725.0 467.5 L726.0 467.9 L727.0 468.4 L728.0 468.8 L729.0 469.2 L730.0 469.7 L731.0 470.1 L732.0 470.5 L733.0 470.9 L734.0 471.4 L735.0 471.8 L735.9 472.2 L736.0 472.2 L737.0 472.7 L738.0 473.2 L739.0 473.7 L740.0 474.2 L741.0 474.7 L742.0 475.2 L743.0 475.7 L744.0 476.3 L745.0 476.8 L746.0 477.3 L747.0 477.8 L747.7 478.1 L748.0 478.3 L749.0 478.7 L750.0 479.2 L751.0 479.6 L752.0 480.0 L753.0 480.5 L754.0 480.9 L755.0 481.3 L756.0 481.7 L757.0 482.2 L758.0 482.6 L759.0 483.0 L760.0 483.5 L761.0 483.9 L761.2 484.0 L762.0 484.4 L763.1 484.8 L764.1 485.3 L765.1 485.8 L766.1 486.3 L767.1 486.7 L768.1 487.2 L769.1 487.7 L770.1 488.2 L771.1 488.7 L772.1 489.3 L773.1 489.8 L774.1 490.3 L774.7 490.7 L775.1 490.9 L776.1 491.5 L777.1 492.1 L778.1 492.7 L779.1 493.3 L780.1 493.9 L781.1 494.5 L782.1 495.2 L783.1 495.8 L784.1 496.5 L785.1 497.1 L786.1 497.8 L787.1 498.5 L788.1 499.1 L788.2 499.2 L789.1 499.8 L790.1 500.5 L791.1 501.1 L792.1 501.8 L793.1 502.5 L794.1 503.2 L795.1 503.9 L796.1 504.6 L797.1 505.3 L798.1 506.0 L799.1 506.7" stroke="#780808" stroke-width="1.6" />
<path d="M364.9 527.2 L365.9 521.2 L366.9 515.4 L367.9 509.7 L368.9 504.2 L369.9 498.9 L370.1 497.9 L370.9 493.8 L371.9 488.7 L372.9 483.7 L373.9 478.9 L374.9 474.1 L375.9 469.6 L376.9 465.1 L377.5 462.6 L377.9 460.9 L378.9 456.8 L379.9 452.7 L380.9 448.8 L381.9 444.9 L382.9 441.0 L383.9 437.2 L384.9 433.3 L385.0 433.0 L385.9 429.8 L386.9 426.6 L387.9 423.2 L388.7 420.0 L388.9 419.0 L389.9 413.8 L390.9 407.8 L391.9 401.3 L392.5 397.5 L392.9 394.8 L393.9 388.1 L394.9 381.3 L395.9 374.6 L396.9 368.0 L397.6 363.7 L397.9 361.8 L398.9 356.0 L399.9 350.3 L400.9 344.8 L401.9 339.2 L402.9 333.5 L403.5 330.0 L403.9 327.4 L404.9 321.1 L405.1 320.0 L405.9 315.1 L406.9 309.3 L407.9 303.5 L408.9 297.7 L409.9 291.9 L410.1 290.8 L410.9 285.8 L411.9 279.5 L412.9 273.0 L413.9 266.6 L414.9 260.4 L415.2 258.8 L415.9 254.7 L416.9 249.7 L417.9 245.3 L418.9 241.3 L419.9 237.8 L420.2 236.9 L420.9 234.6 L421.9 231.7 L422.9 229.0 L423.9 226.6 L424.8 224.8 L424.9 224.5 L425.9 222.7 L426.9 221.0 L427.9 219.7 L428.5 219.2 L428.9 218.9 L429.9 218.3 L430.9 217.9 L431.9 217.6 L432.9 217.7 L433.6 217.8 L433.9 217.9 L434.9 218.2 L435.9 218.6 L436.9 219.1 L437.9 219.6 L438.9 220.3 L439.5 220.8 L439.9 221.2 L440.9 222.1 L441.9 223.0 L442.9 223.9 L443.9 224.8 L444.9 225.8 L445.9 226.8 L446.9 227.8 L447.9 228.9 L448.9 230.1 L449.9 231.3 L450.0 231.4 L450.9 232.6 L451.9 233.9 L452.9 235.2 L453.9 236.5 L454.9 237.9 L455.9 239.2 L456.9 240.5 L457.9 241.7 L458.1 241.9 L458.9 242.9 L459.9 244.2 L460.9 245.4 L461.9 246.6 L462.9 247.8 L463.9 249.0 L464.8 250.0 L464.9 250.2 L465.9 251.4 L466.9 252.5 L467.9 253.7 L468.9 254.8 L469.9 256.0 L470.9 257.1 L471.9 258.2 L472.5 258.8 L472.9 259.3 L474.0 260.4 L475.0 261.4 L476.0 262.4 L477.0 263.4 L478.0 264.3 L479.0 265.2 L480.0 266.1 L481.0 267.0 L482.0 267.9 L483.0 268.7 L484.0 269.5 L484.3 269.8 L485.0 270.3 L486.0 271.1 L487.0 271.9 L488.0 272.6 L489.0 273.4 L490.0 274.1 L491.0 274.8 L492.0 275.5 L493.0 276.2 L494.0 276.8 L495.0 277.5 L496.0 278.1 L496.1 278.2 L497.0 278.7 L498.0 279.3 L499.0 279.9 L500.0 280.5 L501.0 281.1 L502.0 281.7 L503.0 282.3 L504.0 282.8 L505.0 283.4 L506.0 283.9 L507.0 284.4 L507.9 284.9 L508.0 284.9 L509.0 285.4 L510.0 285.9 L511.0 286.4 L512.0 286.9 L513.0 287.4 L514.0 287.9 L515.0 288.3 L516.0 288.7 L517.0 289.1 L518.0 289.5 L518.1 289.5 L519.0 289.8 L520.0 290.1 L521.0 290.4 L522.0 290.8 L523.0 291.1 L524.0 291.4 L525.0 291.7 L526.0 292.0 L526.5 292.2 L527.0 292.4 L528.0 292.7 L529.0 293.1 L530.0 293.4 L531.0 293.8 L532.0 294.1 L533.0 294.4 L533.2 294.5 L534.0 294.7 L535.0 295.0 L536.0 295.2 L537.0 295.4 L538.0 295.6 L539.0 295.8 L540.0 296.0 L540.0 296.0 L541.0 296.2 L542.0 296.4 L543.0 296.6 L544.0 296.8 L545.0 296.9 L546.0 297.0 L547.0 297.1 L548.0 297.1 L548.6 297.1 L549.0 297.1 L550.0 297.0 L551.0 296.9 L552.0 296.9 L553.0 296.8 L554.0 296.7 L555.0 296.6 L556.0 296.5 L557.0 296.5 L558.0 296.4 L559.0 296.3 L560.0 296.2 L560.4 296.2 L561.0 296.2 L562.0 296.1 L563.0 296.1 L564.0 296.0 L565.0 296.0 L566.0 296.0 L567.0 295.9 L568.0 295.9 L569.0 295.9 L570.0 295.8 L571.0 295.7 L572.0 295.6 L573.0 295.5 L574.0 295.4 L575.0 295.2 L575.5 295.1 L576.0 295.0 L577.0 294.7 L578.0 294.5 L579.0 294.1 L580.0 293.8 L581.0 293.4 L582.0 293.0 L583.0 292.7 L584.0 292.3 L585.0 291.9 L585.7 291.7 L586.0 291.6 L587.0 291.3 L588.0 290.9 L589.0 290.6 L590.0 290.2 L591.0 289.9 L592.0 289.5 L593.0 289.2 L594.0 288.9 L595.0 288.6 L595.8 288.3 L596.0 288.2 L597.0 288.0 L598.0 287.7 L599.0 287.5 L600.0 287.3 L601.0 287.1 L602.0 287.0 L603.0 286.8 L604.0 286.6 L604.2 286.6 L605.0 286.4 L606.0 286.3 L607.0 286.1 L608.0 285.9 L609.0 285.7 L610.0 285.5 L611.0 285.3 L612.0 285.2 L613.0 285.0 L614.0 284.8 L615.0 284.6 L616.0 284.4 L617.0 284.2 L617.7 284.1 L618.0 284.0 L619.0 283.8 L620.0 283.6 L621.0 283.4 L622.0 283.1 L623.0 282.9 L624.0 282.6 L625.0 282.3 L626.0 282.1 L627.0 281.8 L628.0 281.5 L629.0 281.3 L630.0 281.0 L631.0 280.7 L632.0 280.5 L633.0 280.2 L634.0 280.0 L634.6 279.9 L635.0 279.8 L636.0 279.6 L637.0 279.4 L638.0 279.2 L639.0 279.0 L640.0 278.8 L641.0 278.6 L642.0 278.5 L643.0 278.3 L644.0 278.1 L645.0 278.0 L646.0 277.8 L647.0 277.6 L648.0 277.5 L649.0 277.3 L650.0 277.2 L651.0 277.1 L651.4 277.0 L652.0 276.9 L653.0 276.8 L654.0 276.7 L655.0 276.6 L656.0 276.5 L657.0 276.4 L658.0 276.3 L659.0 276.2 L660.0 276.1 L661.0 276.0 L662.0 275.9 L663.0 275.7 L664.0 275.6 L665.0 275.5 L665.0 275.5 L666.0 275.4 L667.0 275.2 L668.0 275.0 L669.0 274.9 L670.0 274.7 L671.0 274.5 L672.0 274.3 L673.0 274.1 L674.0 273.9 L675.0 273.8 L676.0 273.6 L676.9 273.5 L677.0 273.5 L678.0 273.4 L679.0 273.2 L680.0 273.1 L681.0 273.0 L682.0 272.9 L683.0 272.9 L684.0 272.8 L685.0 272.7 L686.0 272.7 L687.0 272.6 L688.0 272.6 L689.0 272.5 L690.0 272.5 L691.1 272.5 L692.1 272.5 L693.1 272.5 L693.7 272.5 L694.1 272.5 L695.1 272.5 L696.1 272.5 L697.1 272.6 L698.1 272.6 L699.1 272.6 L700.1 272.7 L701.1 272.7 L702.1 272.8 L703.1 272.8 L704.1 272.9 L705.1 273.0 L706.1 273.0 L707.1 273.1 L708.1 273.2 L709.1 273.3 L710.1 273.4 L710.6 273.5 L711.1 273.6 L712.1 273.7 L713.1 273.8 L714.1 273.9 L715.1 274.1 L716.1 274.2 L717.1 274.3 L718.1 274.5 L719.1 274.6 L720.1 274.8 L721.1 274.9 L722.1 275.0 L723.1 275.2 L724.1 275.3 L725.1 275.5 L726.1 275.7 L727.1 275.8 L727.5 275.9 L728.1 276.0 L729.1 276.2 L730.1 276.3 L731.1 276.5 L732.1 276.7 L733.1 276.8 L734.1 277.0 L735.1 277.2 L736.1 277.4 L737.1 277.5 L738.1 277.7 L739.1 277.9 L740.1 278.1 L741.1 278.3 L742.1 278.5 L743.1 278.7 L744.1 278.9 L744.3 278.9 L745.1 279.1 L746.1 279.3 L747.1 279.5 L748.1 279.7 L749.1 279.9 L750.1 280.1 L751.1 280.3 L752.1 280.5 L753.1 280.7 L754.1 281.0 L755.1 281.2 L756.1 281.4 L757.1 281.6 L758.1 281.9 L759.1 282.1 L760.1 282.3 L761.1 282.6 L761.2 282.6 L762.1 282.8 L763.1 283.0 L764.1 283.3 L765.1 283.5 L766.1 283.8 L767.1 284.0 L768.1 284.3 L769.1 284.5 L770.1 284.8 L771.1 285.1 L772.1 285.3 L773.1 285.6 L774.1 285.9 L775.1 286.2 L776.1 286.4 L777.1 286.7 L778.1 287.0 L778.1 287.0 L779.1 287.3 L780.1 287.6 L781.1 287.9 L782.1 288.2 L783.1 288.5 L784.1 288.8 L785.1 289.1 L786.1 289.4 L787.1 289.7 L788.1 290.1 L789.1 290.4 L790.1 290.7 L791.1 291.0 L792.1 291.4 L793.1 291.7 L794.1 292.1 L795.1 292.4 L796.1 292.7 L797.1 293.1 L798.1 293.4 L799.1 293.8" stroke="#cc0004" stroke-width="1.6" />
<path d="M390.5 527.2 L391.5 525.2 L392.5 523.2 L393.5 521.2 L394.5 519.2 L395.5 517.2 L396.5 515.3 L397.5 513.3 L398.5 511.4 L399.5 509.5 L399.8 509.0 L400.5 507.7 L401.5 505.8 L402.5 504.0 L403.5 502.2 L404.5 500.4 L405.5 498.6 L406.5 496.7 L407.5 494.9 L408.5 493.1 L409.5 491.3 L410.5 489.5 L411.5 487.7 L412.5 485.8 L413.5 484.0 L413.5 484.0 L414.5 482.1 L415.5 480.2 L416.5 478.3 L417.5 476.5 L418.5 474.6 L419.5 472.7 L420.5 470.8 L421.5 468.9 L422.5 467.1 L423.5 465.2 L424.5 463.3 L425.5 461.4 L426.5 459.6 L427.0 458.7 L427.5 457.7 L428.5 455.8 L429.5 454.0 L430.5 452.1 L431.5 450.2 L432.5 448.4 L433.5 446.6 L434.6 444.7 L435.6 442.9 L436.6 441.1 L437.1 440.1 L437.6 439.3 L438.6 437.8 L439.6 436.5 L440.6 435.3 L441.6 434.1 L442.6 433.0 L443.6 431.7 L444.6 430.2 L444.7 430.0 L445.6 428.6 L446.6 426.9 L447.6 425.2 L448.6 423.4 L449.6 421.7 L450.6 420.1 L450.6 420.0 L451.6 418.4 L452.6 416.8 L453.6 415.1 L454.6 413.6 L455.6 412.0 L456.6 410.5 L457.3 409.4 L457.6 409.0 L458.6 407.6 L459.6 406.4 L460.6 405.3 L461.6 404.2 L462.6 403.2 L463.6 402.4 L464.6 401.5 L465.6 400.7 L466.6 400.0 L467.5 399.3 L467.6 399.2 L468.6 398.5 L469.6 397.8 L470.6 397.2 L471.6 396.6 L472.6 396.0 L473.6 395.5 L474.6 395.0 L475.6 394.6 L476.6 394.2 L477.6 393.9 L478.7 394.8 L479.7 395.6 L480.8 396.4 L481.8 397.3 L482.9 398.1 L483.9 399.0 L484.3 399.3 L484.9 399.8 L486.0 400.7 L487.1 401.5 L488.1 402.3 L489.1 403.2 L490.2 404.0 L491.2 402.6 L492.2 401.3 L493.2 399.9 L494.2 398.5 L495.2 397.1 L496.1 395.9 L496.2 395.8 L497.2 394.4 L498.2 393.0 L499.2 391.6 L500.2 390.2 L501.2 388.8 L502.2 387.4 L503.2 386.0 L504.2 384.7 L504.6 384.1 L505.2 383.3 L506.2 381.9 L507.2 380.6 L508.2 379.2 L509.2 377.9 L510.2 376.5 L511.2 375.1 L512.2 373.7 L513.2 372.2 L514.2 370.6 L514.7 369.8 L515.2 368.9 L516.2 366.6 L517.2 363.7 L518.2 360.6 L519.2 357.3 L520.2 354.0 L521.2 351.0 L521.4 350.4 L522.2 348.2 L523.2 345.5 L524.2 342.8 L525.2 340.1 L526.2 337.4 L527.2 334.6 L528.2 331.8 L529.2 328.5 L530.2 324.4 L531.2 320.0 L535.1 294.2 L540.1 275.7 L543.5 271.4 L546.9 279.0 L555.3 301.0 L561.2 315.3 L563.7 301.0 L567.9 270.6 L574.7 254.6 L578.6 252.0 L580.6 263.9 L584.0 287.5 L588.2 306.4 L597.5 302.6 L600.8 292.5 L604.2 286.6 L607.6 294.2 L612.6 309.4 L616.0 320.0 L617.0 321.6 L617.7 322.5 L618.0 322.8 L619.0 323.8 L620.0 324.7 L621.0 325.6 L622.0 326.4 L623.0 327.3 L624.0 328.1 L625.0 328.9 L626.0 329.7 L627.0 330.5 L628.0 331.4 L629.0 332.2 L630.0 333.2 L631.0 334.1 L631.2 334.3 L632.0 335.2 L633.1 336.2 L634.1 337.2 L635.1 338.2 L636.1 339.2 L637.1 340.3 L638.1 341.3 L639.1 342.4 L640.1 343.4 L641.1 344.5 L642.1 345.7 L643.1 346.8 L644.1 348.0 L644.7 348.7 L645.1 349.2 L646.1 350.4 L647.1 351.6 L648.1 352.9 L649.1 354.1 L650.1 355.4 L651.1 356.7 L652.1 358.0 L653.1 359.3 L654.1 360.6 L655.1 362.0 L656.1 363.4 L656.5 363.9 L657.1 364.8 L658.1 366.2 L659.1 367.6 L660.1 369.0 L661.1 370.4 L662.1 371.8 L663.1 373.2 L664.2 374.6 L664.9 375.7 L665.2 376.1 L666.2 377.5 L667.2 378.8 L668.2 380.3 L668.4 380.6 L669.2 381.8 L670.2 383.7 L671.2 385.9 L672.2 388.3 L673.2 390.8 L674.2 393.3 L675.2 395.8 L675.2 395.8 L676.2 398.1 L677.2 400.5 L678.2 402.8 L679.2 405.2 L680.2 407.6 L681.2 408.0 L682.2 408.5 L683.3 409.0 L684.3 409.4 L685.3 409.9 L686.3 410.4 L687.3 410.9 L688.3 411.4 L689.4 412.0 L690.4 412.5 L691.4 413.0 L692.4 413.6 L693.4 414.2 L693.7 414.3 L694.5 414.7 L695.5 415.3 L696.5 416.0 L697.5 416.6 L698.5 417.3 L699.6 417.9 L700.6 418.6 L701.6 419.3 L702.6 420.0 L703.6 420.6 L704.6 421.3 L705.7 421.9 L706.7 422.5 L707.2 422.8 L707.7 423.1 L708.7 423.6 L709.7 424.2 L710.8 424.7 L711.8 425.3 L712.8 425.8 L713.8 426.2 L714.8 426.7 L715.9 427.2 L716.9 427.6 L717.3 427.8 L717.9 428.0 L718.9 428.4 L719.9 428.8 L720.9 429.1 L722.0 429.5 L723.0 429.7 L724.0 430.0 L725.0 430.2 L726.0 430.4 L727.0 430.6 L728.0 430.8 L729.0 431.0 L730.0 431.2 L731.0 431.4 L732.0 431.6 L733.0 431.8 L734.0 432.0 L735.0 432.2 L736.0 432.4 L737.0 432.6 L738.0 432.8 L739.0 433.0 L740.0 433.2 L741.0 433.4 L741.0 433.4 L742.0 433.6 L743.0 433.8 L744.0 434.1 L745.0 434.3 L746.0 434.6 L747.0 434.8 L748.0 435.1 L749.0 435.3 L750.0 435.6 L751.0 435.9 L752.0 436.1 L753.0 436.4 L754.0 436.6 L755.0 436.9 L756.0 437.1 L757.0 437.3 L758.0 437.5 L759.0 437.7 L760.0 437.9 L761.0 438.1 L761.2 438.1 L762.1 438.2 L763.1 438.4 L764.1 438.5 L765.1 438.6 L766.1 438.7 L767.1 438.8 L768.1 438.8 L769.1 438.9 L770.1 439.0 L771.1 439.0 L772.1 439.1 L773.1 439.1 L774.1 439.1 L775.1 439.2 L776.1 439.2 L777.1 439.3 L778.1 439.3 L778.1 439.3 L779.1 439.3 L780.1 439.4 L781.1 439.4 L782.1 439.5 L783.1 439.5 L784.1 439.6 L785.1 439.6 L786.1 439.7 L787.1 439.7 L788.1 439.7 L789.1 439.8 L790.1 439.8 L791.1 439.9 L792.1 439.9 L793.1 439.9 L794.1 440.0 L795.1 440.0 L796.1 440.0 L797.1 440.1 L798.1 440.1 L799.1 440.1" stroke="#e81c04" stroke-width="1.6" />
<path d="M438.8 527.5 L439.8 526.4 L440.8 525.3 L441.8 524.2 L442.8 523.2 L443.8 522.2 L444.8 521.2 L445.8 520.2 L446.8 519.3 L447.8 518.3 L448.8 517.5 L449.8 516.6 L450.6 516.0 L450.8 515.8 L451.8 515.0 L452.8 514.3 L453.8 513.5 L454.8 512.7 L455.8 512.0 L456.8 511.2 L457.8 510.5 L458.8 509.8 L459.8 509.1 L460.8 508.4 L461.8 507.7 L462.8 507.1 L463.8 506.4 L464.8 505.8 L465.8 505.2 L466.8 504.6 L467.5 504.2 L467.8 504.0 L468.9 503.4 L469.9 502.8 L470.9 502.3 L471.9 501.7 L472.9 501.1 L473.9 500.6 L474.9 500.0 L475.9 499.5 L476.9 498.9 L477.9 498.4 L478.9 497.8 L479.9 497.3 L480.9 496.7 L481.9 496.2 L482.9 495.7 L483.9 495.1 L484.3 494.9 L484.9 494.6 L485.9 494.1 L486.9 493.5 L487.9 493.0 L488.9 492.5 L489.9 492.0 L490.9 491.5 L491.9 491.0 L492.9 490.5 L493.9 490.0 L494.9 489.5 L495.9 489.0 L496.9 488.5 L497.9 488.0 L498.9 487.6 L499.9 487.1 L500.9 486.6 L501.2 486.5 L501.9 486.2 L502.9 485.8 L503.9 485.3 L504.9 484.9 L505.9 484.5 L506.9 484.1 L507.9 483.8 L508.9 483.4 L509.9 483.1 L510.9 482.7 L511.9 482.4 L512.9 482.1 L513.9 481.8 L514.9 481.5 L515.9 481.2 L516.9 480.9 L517.9 480.6 L518.1 480.6 L518.9 480.4 L519.9 480.1 L520.9 479.9 L521.9 479.6 L522.9 479.4 L523.9 479.2 L524.9 478.9 L525.9 478.7 L526.9 478.4 L527.9 478.2 L529.0 478.0 L530.0 477.8 L531.0 477.5 L531.6 477.4 L532.0 477.3 L533.0 477.1 L534.0 476.9 L535.0 476.7 L536.0 476.5 L537.0 476.2 L538.0 476.0 L539.0 475.8 L540.0 475.6 L541.0 475.4 L542.0 475.2 L543.0 475.0 L544.0 474.8 L545.0 474.6 L546.0 474.4 L546.9 474.2 L547.0 474.2 L548.0 474.0 L549.0 473.8 L550.0 473.6 L551.0 473.5 L552.0 473.3 L553.0 473.1 L554.0 473.0 L555.0 472.8 L556.0 472.7 L557.0 472.6 L558.0 472.4 L559.0 472.3 L560.0 472.2 L561.0 472.1 L562.0 472.0 L563.0 471.9 L563.7 471.8 L564.0 471.8 L565.0 471.7 L566.0 471.6 L567.0 471.5 L568.0 471.5 L569.0 471.5 L570.0 471.4 L571.0 471.4 L572.0 471.4 L573.0 471.5 L573.9 471.5 L574.0 471.5 L575.0 471.6 L576.0 471.6 L577.0 471.7 L578.0 471.7 L579.0 471.8 L580.0 471.8 L581.0 471.9 L582.0 472.0 L583.0 472.0 L584.0 472.1 L585.0 472.2 L586.0 472.3 L587.0 472.3 L588.0 472.4 L589.0 472.5 L589.0 472.5 L590.1 472.6 L591.1 472.7 L592.1 472.8 L593.1 472.9 L594.1 473.0 L595.1 473.1 L596.1 473.1 L597.1 473.2 L598.1 473.3 L599.1 473.4 L600.1 473.6 L601.1 473.7 L602.1 473.8 L603.1 473.9 L604.1 474.0 L605.1 474.1 L605.9 474.2 L606.1 474.2 L607.1 474.3 L608.1 474.5 L609.1 474.6 L610.1 474.7 L611.1 474.9 L612.1 475.0 L613.1 475.2 L614.1 475.3 L615.1 475.5 L616.1 475.7 L617.1 475.8 L618.1 476.0 L619.1 476.2 L620.1 476.4 L621.1 476.6 L622.1 476.8 L622.8 476.9 L623.1 477.0 L624.1 477.2 L625.1 477.4 L626.1 477.6 L627.1 477.8 L628.1 478.0 L629.1 478.3 L630.1 478.5 L631.1 478.7 L632.1 479.0 L633.1 479.2 L634.1 479.5 L635.1 479.7 L636.1 480.0 L637.1 480.2 L638.1 480.5 L639.1 480.8 L639.6 480.9 L640.1 481.0 L641.1 481.3 L642.1 481.6 L643.1 481.9 L644.1 482.1 L645.1 482.4 L646.1 482.7 L647.1 483.0 L648.1 483.3 L649.1 483.6 L650.2 483.9 L651.2 484.2 L652.2 484.5 L653.2 484.8 L654.2 485.2 L655.2 485.5 L656.2 485.9 L656.5 486.0 L657.2 486.2 L658.2 486.6 L659.2 487.0 L660.2 487.4 L661.2 487.8 L662.2 488.2 L663.2 488.6 L664.2 489.0 L665.0 489.3 L665.2 489.4 L666.2 489.8 L667.2 490.2 L668.2 490.6 L669.2 491.0 L670.2 491.4 L671.2 491.8 L672.2 492.2 L673.2 492.6 L674.2 493.0 L675.2 493.4 L676.2 493.8 L676.9 494.1 L677.2 494.2 L678.2 494.6 L679.2 495.1 L680.2 495.5 L681.2 495.9 L682.2 496.4 L683.2 496.8 L684.2 497.3 L685.2 497.7 L686.2 498.2 L687.2 498.7 L688.2 499.1 L689.2 499.6 L690.2 500.1 L691.2 500.5 L692.2 501.0 L693.2 501.5 L693.7 501.7 L694.2 501.9 L695.2 502.4 L696.2 502.9 L697.2 503.4 L698.2 503.9 L699.2 504.4 L700.2 504.9 L701.2 505.4 L702.2 505.9 L703.2 506.4 L704.2 506.9 L705.2 507.4 L706.2 507.9 L707.2 508.4 L708.2 508.9 L709.2 509.4 L710.3 509.9 L710.6 510.1 L711.3 510.4 L712.3 511.0 L713.3 511.5 L714.3 512.0 L715.3 512.5 L716.3 513.1 L717.3 513.6 L718.3 514.2 L719.3 514.7 L720.3 515.3 L721.3 515.8 L722.3 516.4 L723.3 517.0 L724.3 517.5 L725.3 518.1 L726.3 518.7 L727.3 519.3 L727.5 519.4 L728.3 519.9 L729.3 520.5 L730.3 521.1 L731.3 521.7 L732.3 522.3 L733.3 523.0 L734.3 523.6 L735.3 524.3 L736.3 525.0 L737.3 525.6 L738.3 526.3 L739.3 527.0" stroke="#e6600e" stroke-width="1.6" />
<path d="M354.8 527.2 L355.3 523.1 L355.8 519.2 L356.3 515.4 L356.7 512.7 L356.8 511.7 L357.3 508.1 L357.9 504.6 L358.4 501.2 L358.9 497.9 L359.4 494.9 L359.5 494.2 L359.9 492.0 L360.4 489.1 L360.9 486.4 L361.4 483.8 L361.9 481.3 L362.4 478.9 L363.0 476.7 L363.2 475.6 L363.5 474.5 L364.0 472.4 L364.5 470.3 L365.0 468.4 L365.5 466.5 L366.0 464.6 L366.5 462.9 L367.0 461.2 L367.5 459.7 L367.8 458.9 L368.0 458.2 L368.6 456.8 L369.1 455.4 L369.6 454.1 L370.1 452.8 L370.6 451.7 L371.1 450.5 L371.6 449.5 L372.1 448.5 L372.5 447.8 L372.6 447.6 L373.1 446.7 L373.7 445.9 L374.2 445.1 L374.7 444.4 L375.2 443.7 L375.7 443.1 L376.2 442.6 L381.7 446.0 L387.3 442.3 L387.8 443.4 L388.3 444.6 L388.8 445.9 L389.3 447.3 L389.8 448.8 L390.1 449.7 L390.3 450.4 L390.8 452.0 L391.3 453.6 L391.8 455.5 L392.3 457.8 L392.9 460.5 L392.9 460.8 L393.4 464.6 L393.9 470.5 L394.4 477.1 L394.7 481.2 L394.9 483.1 L395.4 488.9 L395.9 494.8 L396.4 500.8 L396.6 503.5 L396.9 507.1 L397.4 513.6 L397.9 520.3 L398.4 527.2" stroke="#e8c000" stroke-width="1.6" />
<path d="M415.5 527.5 L416.5 518.4 L417.5 510.2 L418.5 503.1 L418.6 502.5 L419.5 496.8 L420.5 490.9 L421.5 485.4 L422.5 480.4 L423.5 475.8 L423.6 475.5 L424.5 471.5 L425.5 467.4 L426.5 463.5 L427.6 459.8 L428.6 456.4 L429.5 453.6 L429.6 453.4 L430.6 450.7 L431.6 448.1 L432.6 445.7 L433.6 443.5 L434.6 441.5 L435.4 440.1 L435.6 439.8 L436.6 438.2 L437.6 436.7 L438.6 435.2 L439.6 434.0 L440.6 433.0 L441.3 432.5 L441.6 432.3 L442.6 431.7 L443.6 431.1 L444.6 430.5 L445.6 430.0 L446.6 429.4 L447.6 428.7 L448.0 428.5 L448.6 428.1 L449.7 427.4 L450.7 426.7 L451.7 426.1 L452.7 425.4 L453.7 424.8 L454.7 424.1 L455.7 423.4 L456.7 422.8 L457.7 422.1 L458.7 421.4 L459.7 420.7 L460.7 420.0 L472.5 407.7 L484.3 394.2 L494.5 385.8 L501.2 386.1 L509.6 381.6 L514.7 377.3 L519.7 367.2 L524.8 353.7 L529.0 341.9 L534.9 334.3 L540.1 328.4 L548.6 320.8 L560.4 321.3 L570.5 323.0 L574.7 327.6 L585.7 329.3 L597.5 332.6 L607.6 336.9 L619.4 339.4 L628.7 341.9 L632.9 333.5 L637.9 320.0 L640.5 301.0 L652.3 292.2 L660.0 292.7 L661.0 292.7 L662.0 292.7 L663.0 292.8 L664.0 292.8 L665.0 292.9 L666.0 292.9 L667.0 293.0 L668.0 293.1 L669.0 293.2 L670.0 293.3 L671.0 293.4 L672.0 293.6 L673.0 293.7 L673.5 293.8 L674.0 293.9 L675.0 294.1 L676.0 294.2 L677.0 294.4 L678.0 294.7 L679.0 294.9 L680.0 295.1 L681.0 295.4 L682.0 295.6 L683.0 295.9 L684.0 296.2 L685.0 296.5 L686.0 296.8 L687.0 297.1 L687.0 297.1 L688.0 297.4 L689.0 297.8 L690.0 298.1 L691.0 298.4 L692.0 298.8 L693.0 299.2 L694.0 299.6 L695.0 299.9 L696.0 300.4 L697.0 300.8 L698.0 301.2 L699.0 301.7 L700.0 302.2 L701.0 302.7 L702.0 303.2 L703.0 303.7 L703.9 304.2 L704.0 304.3 L705.0 304.9 L706.0 305.4 L707.0 306.0 L708.0 306.6 L709.0 307.3 L710.0 307.9 L711.0 308.5 L712.0 309.1 L713.0 309.8 L714.0 310.4 L715.0 311.1 L716.0 311.8 L717.0 312.4 L717.3 312.6 L718.0 313.1 L719.0 313.8 L720.0 314.5 L721.0 315.2 L722.0 315.8 L723.0 316.5 L724.0 317.2 L725.0 317.9 L726.0 318.6 L727.0 319.3 L728.0 320.0 L729.0 320.7 L730.1 321.4 L730.8 321.9 L731.1 322.1 L732.1 322.7 L733.1 323.3 L734.1 324.0 L735.1 324.5 L736.1 325.1 L737.1 325.7 L738.1 326.3 L739.1 326.8 L740.1 327.4 L741.1 328.0 L742.1 328.6 L743.1 329.2 L744.1 329.8 L744.3 330.0 L745.1 330.5 L746.1 331.2 L747.1 331.9 L748.1 332.7 L749.1 333.5 L750.1 334.3 L751.1 335.2 L752.1 336.1 L753.1 337.0 L754.1 338.0 L755.1 339.0 L756.1 340.0 L757.1 341.0 L757.8 341.8 L758.1 342.1 L759.1 343.2 L760.1 344.3 L761.1 345.5 L762.1 346.6 L763.1 347.8 L764.1 349.1 L765.1 350.3 L766.1 351.6 L767.1 352.9 L768.1 354.3 L769.1 355.6 L770.1 357.0 L771.1 358.4 L771.3 358.7 L772.1 359.8 L773.1 361.2 L774.1 362.7 L775.1 364.1 L776.1 365.6 L777.1 367.1 L778.1 368.6 L779.1 370.1 L780.1 371.6 L781.1 373.1 L782.1 374.7 L783.1 376.2 L784.1 377.8 L784.8 378.9 L785.1 379.4 L786.1 380.9 L787.1 382.5 L788.1 384.2 L789.1 385.8 L790.1 387.5 L791.1 389.2 L792.1 390.9 L793.1 392.6 L794.1 394.4 L794.9 395.8 L795.1 396.2 L796.1 398.0 L797.1 400.0 L798.1 402.1 L799.1 404.2" stroke="#e8c000" stroke-width="1.6" />
<path d="M276.5 527.2 L277.5 517.7 L278.5 509.2 L279.3 503.4 L279.5 502.1 L280.5 495.7 L281.5 489.7 L282.5 484.0 L283.0 481.2 L283.5 478.4 L284.5 472.9 L285.5 467.5 L286.5 462.3 L287.5 457.5 L287.6 457.1 L288.5 453.1 L289.5 449.0 L290.5 445.2 L291.5 441.8 L292.5 438.7 L293.2 436.7 L293.5 435.8 L294.5 433.1 L295.5 430.3 L296.5 427.7 L297.5 425.1 L298.5 422.7 L299.5 420.4 L299.7 420.0 L300.5 418.2 L301.5 416.0 L302.5 413.8 L303.5 411.6 L304.5 409.4 L305.5 407.2 L306.5 405.0 L307.5 402.9 L307.7 402.5 L308.5 400.7 L309.5 398.5 L310.5 396.4 L311.5 394.2 L312.5 392.1 L313.5 389.9 L314.5 387.8 L315.5 385.6 L316.5 383.5 L317.5 381.4 L318.5 379.3 L319.5 377.3 L320.6 375.2 L321.2 373.9 L321.6 373.2 L322.6 371.2 L323.6 369.4 L324.6 367.6 L325.6 365.8 L326.6 364.1 L327.6 362.5 L328.6 360.9 L329.6 359.4 L330.6 357.9 L331.6 356.4 L332.6 354.9 L333.6 353.5 L334.6 352.1 L334.7 351.9 L335.6 350.7 L336.6 349.3 L337.6 347.9 L338.6 346.5 L339.6 345.1 L340.6 343.7 L341.6 342.3 L342.6 340.9 L343.6 339.6 L344.6 338.2 L345.6 336.9 L346.6 335.5 L347.6 334.2 L348.6 332.8 L349.6 331.5 L350.6 330.2 L350.7 330.0 L351.6 328.8 L352.6 327.5 L353.6 326.2 L354.6 324.9 L355.6 323.6 L356.6 322.3 L357.6 321.0 L358.6 319.7 L359.6 318.5 L360.6 317.2 L361.6 316.0 L362.6 314.8 L363.6 313.6 L364.5 312.6 L364.6 312.5 L365.6 311.4 L366.6 310.3 L367.6 309.3 L368.6 308.3 L369.6 307.4 L370.6 306.5 L371.6 305.6 L372.6 304.8 L373.6 304.0 L374.6 303.2 L375.6 302.5 L376.6 301.7 L377.6 301.0 L377.9 300.8 L378.6 300.3 L379.6 299.6 L380.6 298.9 L381.6 298.2 L382.6 297.6 L383.6 296.9 L384.6 296.3 L385.6 295.7 L386.6 295.1 L387.6 294.5 L388.6 293.9 L389.6 293.4 L390.6 292.8 L391.4 292.4 L391.6 292.3 L392.6 291.8 L393.6 291.2 L394.6 290.7 L395.6 290.2 L396.6 289.7 L397.6 289.3 L398.6 288.8 L399.6 288.4 L400.6 288.0 L401.6 287.6 L402.6 287.2 L403.6 286.9 L404.6 286.6 L404.9 286.5 L405.6 286.3 L406.6 286.1 L407.7 285.8 L408.7 285.6 L409.7 285.5 L410.7 285.3 L411.7 285.1 L412.7 285.0 L413.7 284.8 L414.7 284.6 L415.7 284.4 L416.7 284.2 L416.9 284.1 L417.7 283.9 L418.7 283.7 L419.7 283.4 L420.7 283.1 L421.7 282.9 L422.7 282.6 L423.7 282.4 L424.7 282.1 L425.7 281.8 L426.7 281.5 L427.7 281.2 L428.7 280.9 L429.7 280.6 L430.7 280.2 L431.7 279.8 L432.7 279.4 L433.7 279.0 L433.7 279.0 L434.7 278.6 L435.7 278.1 L436.7 277.7 L437.7 277.2 L438.7 276.7 L439.7 276.2 L440.7 275.7 L441.7 275.2 L442.7 274.7 L443.7 274.2 L444.7 273.7 L445.7 273.2 L446.7 272.6 L447.7 272.1 L448.7 271.6 L449.7 271.1 L450.6 270.6 L450.7 270.5 L451.7 270.0 L452.7 269.5 L453.7 268.9 L454.7 268.4 L455.7 267.8 L456.7 267.2 L457.7 266.7 L458.7 266.1 L459.7 265.5 L460.7 265.0 L461.7 264.4 L462.7 263.9 L463.7 263.3 L464.7 262.8 L465.7 262.2 L466.7 261.7 L467.5 261.3 L467.7 261.2 L468.7 260.7 L469.7 260.3 L470.7 259.8 L471.7 259.4 L472.7 259.1 L473.7 258.7 L474.7 258.4 L475.7 258.1 L476.7 257.8 L477.7 257.6 L478.7 257.3 L479.7 257.1 L480.7 256.9 L481.0 256.8 L481.7 256.6 L482.7 256.4 L483.7 256.3 L484.7 256.1 L485.7 256.0 L486.7 255.8 L487.7 255.7 L488.7 255.6 L489.7 255.5 L490.7 255.5 L491.7 255.4 L492.7 255.4 L492.8 255.4 L493.7 255.4 L494.8 255.4 L495.8 255.4 L496.8 255.4 L497.8 255.4 L498.8 255.5 L499.8 255.5 L500.8 255.6 L501.8 255.8 L502.8 255.9 L503.8 256.1 L504.6 256.3 L504.8 256.3 L505.8 256.6 L506.8 256.8 L507.8 257.1 L508.8 257.4 L509.8 257.7 L510.8 258.0 L511.8 258.3 L512.8 258.6 L513.8 258.9 L514.8 259.3 L515.8 259.6 L516.8 260.0 L517.8 260.4 L518.1 260.5 L518.8 260.8 L519.8 261.2 L520.8 261.6 L521.8 261.9 L522.8 262.3 L523.8 262.7 L524.8 263.1 L525.8 263.5 L526.8 263.9 L527.8 264.3 L528.8 264.7 L529.8 265.2 L529.9 265.2 L530.8 265.6 L531.8 266.0 L532.8 266.4 L533.8 266.8 L534.8 267.1 L535.8 267.5 L536.8 267.9 L537.8 268.3 L538.8 268.7 L539.8 269.1 L540.8 269.6 L541.8 270.0 L542.8 270.4 L543.8 270.9 L544.8 271.3 L545.8 271.8 L546.8 272.3 L546.9 272.3 L547.8 272.7 L548.8 273.2 L549.8 273.7 L550.8 274.2 L551.8 274.7 L552.8 275.2 L553.8 275.7 L554.8 276.2 L555.8 276.7 L556.8 277.2 L557.8 277.7 L558.8 278.2 L559.8 278.8 L560.8 279.3 L561.8 279.8 L562.8 280.3 L563.7 280.7 L563.8 280.8 L564.8 281.3 L565.8 281.8 L566.8 282.3 L567.8 282.8 L568.8 283.3 L569.8 283.8 L570.8 284.3 L571.8 284.8 L572.8 285.3 L573.8 285.8 L574.8 286.3 L575.8 286.8 L576.8 287.3 L577.8 287.8 L578.8 288.3 L579.8 288.8 L580.6 289.2 L580.8 289.3 L581.9 289.8 L582.9 290.3 L583.9 290.7 L584.9 291.2 L585.9 291.6 L586.9 292.0 L587.9 292.5 L588.9 292.9 L589.9 293.3 L590.9 293.7 L591.9 294.1 L592.9 294.6 L593.9 295.0 L594.9 295.4 L595.9 295.9 L596.9 296.4 L597.5 296.7 L597.9 296.9 L598.9 297.4 L599.9 297.9 L600.9 298.4 L601.9 298.9 L602.9 299.4 L603.9 299.9 L604.9 300.4 L605.9 300.9 L606.9 301.4 L607.9 302.0 L608.9 302.5 L609.9 303.0 L610.9 303.5 L611.9 304.0 L612.9 304.5 L613.9 305.0 L614.3 305.2 L614.9 305.5 L615.9 306.0 L616.9 306.5 L617.9 307.0 L618.9 307.5 L619.9 308.0 L620.9 308.5 L621.9 309.0 L622.9 309.5 L623.9 310.0 L624.9 310.5 L625.9 311.0 L626.9 311.5 L627.9 312.0 L628.9 312.5 L629.9 313.0 L630.9 313.5 L631.2 313.6 L631.9 313.9 L632.9 314.4 L633.9 314.9 L634.9 315.4 L635.9 315.9 L636.9 316.3 L637.9 316.8 L638.9 317.3 L639.9 317.7 L640.9 318.2 L641.9 318.7 L642.9 319.2 L643.9 319.6 L644.7 320.0 L644.9 320.1 L645.9 320.6 L646.9 321.1 L647.9 321.6 L648.9 322.1 L649.9 322.6 L650.9 323.1 L651.9 323.6 L652.9 324.1 L653.9 324.6 L654.9 325.1 L655.9 325.6 L656.5 325.9 L656.9 326.1 L657.9 326.6 L658.9 327.0 L659.9 327.5 L660.9 327.9 L661.9 328.3 L662.9 328.7 L663.9 329.1 L664.9 329.6 L665.9 330.0 L666.9 330.4 L667.9 330.8 L669.0 331.3 L670.0 331.8 L670.0 331.8 L671.0 332.3 L672.0 332.8 L673.0 333.3 L674.0 333.8 L675.0 334.3 L676.0 334.8 L677.0 335.4 L678.0 335.9 L679.0 336.4 L680.0 337.0 L681.0 337.5 L682.0 338.1 L683.0 338.6 L684.0 339.2 L685.0 339.7 L686.0 340.2 L687.0 340.8 L688.0 341.3 L689.0 341.9 L690.0 342.4 L691.0 342.9 L692.0 343.4 L693.0 343.9 L693.7 344.3 L694.0 344.4 L695.0 344.9 L696.0 345.4 L697.0 345.9 L698.0 346.4 L699.0 346.9 L700.0 347.4 L701.0 347.8 L702.0 348.3 L703.0 348.8 L704.0 349.2 L705.0 349.7 L706.0 350.2 L707.0 350.6 L708.0 351.1 L709.0 351.5 L710.0 352.0 L711.0 352.5 L712.0 352.9 L713.0 353.4 L714.0 353.8 L715.0 354.3 L716.0 354.8 L717.0 355.2 L718.0 355.7 L719.0 356.2 L720.0 356.7 L721.0 357.1 L722.0 357.6 L723.0 358.1 L724.0 358.6 L725.0 359.1 L726.0 359.6 L727.0 360.1 L727.5 360.4 L728.0 360.7 L729.0 361.2 L730.0 361.7 L731.0 362.3 L732.0 362.8 L733.0 363.3 L734.0 363.9 L735.0 364.4 L736.0 365.0 L737.0 365.5 L738.0 366.1 L739.0 366.7 L740.0 367.2 L741.0 367.8 L742.0 368.4 L743.0 368.9 L744.0 369.5 L745.0 370.1 L746.0 370.7 L747.0 371.3 L748.0 371.9 L749.0 372.5 L750.0 373.0 L751.0 373.6 L752.0 374.2 L753.0 374.8 L754.0 375.4 L755.0 376.1 L756.1 376.7 L757.1 377.3 L758.1 377.9 L759.1 378.5 L760.1 379.1 L761.1 379.7 L761.2 379.8 L762.1 380.3 L763.1 380.9 L764.1 381.6 L765.1 382.2 L766.1 382.8 L767.1 383.4 L768.1 384.1 L769.1 384.7 L770.1 385.3 L771.1 385.9 L772.1 386.6 L773.1 387.2 L774.1 387.9 L775.1 388.5 L776.1 389.2 L777.1 389.8 L778.1 390.5 L779.1 391.1 L780.1 391.8 L781.1 392.4 L782.1 393.1 L783.1 393.7 L784.1 394.4 L784.8 394.9 L785.1 395.1 L786.1 395.8 L787.1 396.4 L788.1 397.1 L789.1 397.8 L790.1 398.5 L791.1 399.2 L792.1 399.9 L793.1 400.6 L794.1 401.4 L795.1 402.1 L796.1 402.8 L797.1 403.5 L798.1 404.3 L799.1 405.0" stroke="#d6e600" stroke-width="1.6" />
<path d="M295.1 526.4 L298.1 521.6 L304.7 526.4" stroke="#00008c" stroke-width="1.6" />
<path d="M321.9 527.2 L322.9 525.0 L323.9 522.7 L324.9 520.4 L325.9 518.2 L326.9 515.9 L327.5 514.6 L327.9 513.7 L328.9 511.5 L329.9 509.3 L330.9 507.1 L331.9 504.9 L332.9 502.7 L333.9 500.3 L334.9 497.9 L334.9 497.9 L335.9 495.2 L336.9 492.4 L337.9 489.4 L338.9 486.2 L339.9 483.1 L340.9 479.9 L341.9 476.8 L342.3 475.6 L342.9 473.8 L343.9 470.8 L344.9 467.7 L345.9 464.7 L346.9 461.7 L347.9 458.7 L348.9 455.7 L349.7 453.4 L349.9 452.8 L350.9 450.0 L351.9 447.3 L352.9 444.8 L353.9 442.5 L354.9 440.1 L355.9 437.8 L356.9 435.5 L357.2 434.8 L357.9 433.1 L358.9 430.7 L359.9 428.3 L360.9 425.9 L361.9 423.6 L362.9 421.4 L363.6 420.0 L363.9 419.4 L364.9 417.3 L365.9 415.3 L366.9 413.3 L367.9 411.3 L368.9 409.3 L369.9 407.3 L370.6 405.9 L370.9 405.3 L371.9 403.2 L372.9 401.2 L373.9 399.3 L374.9 397.3 L375.9 395.3 L376.9 393.3 L377.9 391.3 L378.9 389.3 L379.9 387.3 L380.9 385.3 L381.9 383.3 L382.4 382.3 L382.9 381.2 L383.9 378.9 L384.9 376.4 L385.9 373.7 L386.9 370.8 L387.9 367.8 L388.9 364.7 L389.9 361.5 L390.8 358.7 L390.9 358.3 L391.9 355.0 L392.9 351.6 L393.9 348.2 L394.9 344.7 L395.9 341.3 L396.9 337.9 L397.9 334.5 L398.9 331.2 L399.3 330.0 L399.9 328.0 L400.9 324.7 L401.9 321.5 L402.9 318.3 L403.9 315.2 L404.9 312.2 L405.0 312.0 L405.9 309.2 L406.9 306.3 L407.9 303.4 L408.9 300.4 L409.9 297.5 L410.1 297.0 L410.9 294.5 L411.9 291.6 L412.9 288.6 L413.9 285.7 L414.9 282.7 L415.9 279.8 L416.9 276.8 L417.9 273.9 L418.9 270.9 L419.9 268.0 L420.2 267.2 L420.9 265.1 L421.9 262.6 L422.9 260.3 L423.9 258.3 L424.9 256.5 L425.9 254.9 L426.9 253.4 L427.9 252.0 L428.9 250.6 L429.9 249.3 L430.4 248.7 L430.9 248.0 L431.9 246.7 L432.9 245.4 L433.9 244.2 L434.9 243.1 L435.9 242.0 L436.9 241.0 L437.9 240.1 L438.8 239.4 L438.9 239.3 L439.9 238.5 L440.9 237.8 L442.0 237.2 L443.0 236.6 L444.0 236.1 L445.0 235.7 L445.5 235.5 L446.0 235.4 L447.0 235.1 L448.0 234.8 L449.0 234.6 L450.0 234.5 L451.0 234.5 L452.0 234.6 L452.3 234.6 L453.0 234.7 L454.0 234.9 L455.0 235.2 L456.0 235.4 L457.0 235.7 L458.0 236.0 L459.0 236.3 L459.0 236.3 L460.0 236.6 L461.0 237.1 L462.0 237.6 L463.0 238.0 L464.0 238.4 L464.9 238.6 L465.0 238.6 L466.0 238.3 L467.0 237.4 L468.0 236.2 L469.0 235.2 L469.6 234.8 L470.0 234.6 L471.0 234.2 L472.0 233.8 L473.0 233.4 L474.0 233.1 L474.4 233.0 L475.0 232.9 L476.0 232.6 L477.0 232.4 L478.0 232.3 L479.0 232.3 L480.0 232.4 L481.0 232.7 L481.0 232.7 L482.0 233.1 L483.0 233.6 L484.0 234.1 L485.0 234.6 L486.0 235.1 L487.0 235.6 L487.7 236.0 L488.0 236.1 L489.0 236.7 L490.0 237.3 L491.0 237.8 L492.0 238.4 L493.0 238.9 L494.0 239.5 L495.0 240.0 L496.0 240.5 L496.1 240.6 L497.0 241.0 L498.0 241.5 L499.0 241.9 L500.0 242.3 L501.0 242.7 L502.0 243.1 L503.0 243.4 L504.0 243.8 L505.0 244.2 L506.0 244.5 L507.0 244.9 L508.0 245.4 L509.0 245.8 L509.6 246.1 L510.0 246.3 L511.0 246.8 L512.0 247.3 L513.0 247.7 L514.0 248.2 L515.0 248.7 L516.0 249.2 L517.0 249.7 L518.0 250.2 L519.0 250.8 L520.0 251.3 L521.0 251.8 L521.4 252.0 L522.0 252.3 L523.0 252.8 L524.0 253.4 L525.0 253.9 L526.0 254.4 L527.0 255.0 L528.0 255.5 L529.0 256.0 L530.0 256.6 L531.0 257.2 L531.6 257.5 L532.0 257.7 L533.0 258.3 L534.0 258.9 L535.0 259.5 L536.0 260.1 L537.0 260.8 L538.0 261.4 L539.0 262.1 L540.0 262.7 L541.0 263.4 L541.8 263.9 L542.0 264.0 L543.0 264.7 L544.0 265.4 L545.0 266.2 L546.0 267.0 L547.0 267.8 L548.0 268.6 L549.0 269.3 L550.0 270.1 L551.0 270.8 L551.9 271.4 L552.0 271.5 L553.0 272.1 L554.0 272.6 L555.0 273.1 L556.0 273.5 L557.0 273.9 L558.0 274.2 L559.0 274.5 L560.0 274.7 L560.4 274.8 L561.0 274.9 L562.0 275.1 L563.0 275.2 L564.0 275.4 L565.0 275.5 L566.0 275.6 L567.0 275.7 L568.0 275.9 L569.0 276.0 L570.0 276.1 L571.0 276.3 L572.0 276.5 L572.2 276.5 L573.0 276.6 L574.0 276.8 L575.0 277.0 L576.0 277.2 L577.0 277.4 L578.0 277.6 L579.0 277.8 L580.0 278.0 L581.0 278.2 L582.0 278.5 L583.0 278.7 L584.0 279.0 L584.0 279.0 L585.0 279.3 L586.0 279.6 L587.0 280.0 L588.0 280.4 L589.0 280.8 L590.0 281.2 L591.0 281.7 L592.0 282.1 L593.0 282.6 L594.0 283.2 L594.1 283.2 L595.0 283.7 L596.0 284.2 L597.0 284.7 L598.0 285.3 L599.0 285.8 L600.0 286.4 L601.0 287.0 L602.0 287.5 L603.0 288.1 L604.0 288.8 L605.0 289.4 L605.9 290.0 L606.0 290.1 L607.0 290.8 L608.0 291.4 L609.0 292.1 L610.0 292.8 L611.0 293.5 L612.0 294.2 L613.0 294.9 L614.0 295.6 L615.0 296.3 L616.0 297.0 L617.0 297.7 L618.0 298.4 L619.0 299.0 L619.4 299.3 L620.0 299.7 L621.0 300.4 L622.0 301.1 L623.0 301.7 L624.0 302.4 L625.0 303.1 L626.0 303.8 L627.0 304.4 L628.0 305.1 L629.0 305.8 L630.0 306.4 L631.0 307.1 L632.0 307.7 L633.0 308.4 L634.0 309.0 L634.6 309.4 L635.0 309.7 L636.0 310.3 L637.0 311.0 L638.0 311.6 L639.0 312.2 L640.0 312.9 L641.0 313.5 L642.0 314.1 L643.0 314.7 L644.0 315.4 L645.0 316.0 L646.0 316.6 L647.0 317.3 L648.0 317.9 L649.0 318.5 L650.0 319.1 L651.0 319.8 L651.4 320.0 L652.0 320.4 L653.0 321.0 L654.0 321.7 L655.0 322.3 L656.0 322.9 L657.0 323.6 L658.0 324.2 L659.0 324.8 L660.0 325.5 L661.0 326.1 L662.0 326.8 L663.0 327.4 L664.0 328.1 L665.0 328.7 L666.0 329.4 L667.0 330.0 L668.0 330.7 L669.0 331.4 L670.0 332.0 L670.0 332.0 L671.0 332.7 L672.0 333.4 L673.0 334.1 L674.0 334.9 L675.0 335.6 L676.0 336.4 L677.0 337.2 L678.0 337.9 L679.0 338.7 L680.1 339.6 L681.1 340.4 L682.1 341.2 L683.1 342.0 L684.1 342.9 L685.1 343.7 L686.1 344.6 L687.1 345.4 L688.1 346.3 L689.1 347.1 L690.1 348.0 L691.1 348.8 L692.1 349.7 L693.1 350.6 L693.7 351.1 L694.1 351.4 L695.1 352.3 L696.1 353.1 L697.1 353.9 L698.1 354.8 L699.1 355.7 L700.1 356.5 L701.1 357.4 L702.1 358.2 L703.1 359.1 L704.1 359.9 L705.1 360.8 L706.1 361.6 L707.1 362.5 L708.1 363.4 L709.1 364.2 L710.1 365.1 L711.1 365.9 L712.1 366.8 L713.1 367.7 L714.1 368.6 L715.1 369.4 L716.1 370.3 L717.1 371.2 L718.1 372.1 L719.1 372.9 L720.1 373.8 L721.1 374.7 L722.1 375.6 L723.1 376.5 L724.1 377.4 L725.1 378.3 L726.1 379.2 L727.1 380.1 L727.5 380.5 L728.1 381.0 L729.1 381.9 L730.1 382.9 L731.1 383.8 L732.1 384.7 L733.1 385.7 L734.1 386.6 L735.1 387.6 L736.1 388.5 L737.1 389.5 L738.1 390.4 L739.1 391.4 L740.1 392.4 L741.1 393.3 L742.1 394.3 L743.1 395.3 L744.1 396.2 L745.1 397.2 L746.1 398.2 L747.1 399.2 L748.1 400.1 L749.1 401.1 L750.1 402.1 L751.1 403.0 L752.1 404.0 L753.1 405.0 L754.1 405.9 L755.1 406.9 L756.1 407.8 L757.1 408.8 L758.1 409.7 L759.1 410.6 L760.1 411.6 L761.1 412.5 L761.2 412.6 L762.1 413.4 L763.1 414.3 L764.1 415.2 L765.1 416.1 L766.1 417.0 L767.1 417.8 L768.1 418.7 L769.1 419.6 L770.1 420.4 L771.1 421.3 L772.1 422.1 L773.1 423.0 L774.1 423.9 L775.1 424.7 L776.1 425.6 L777.1 426.5 L778.1 427.4 L779.1 428.3 L780.1 429.2 L781.0 430.0 L781.1 430.1 L782.1 431.0 L783.1 431.9 L784.1 432.9 L785.1 433.8 L786.1 434.8 L787.1 435.7 L788.1 436.7 L789.1 437.7 L790.1 438.7 L791.1 439.6 L792.1 440.6 L793.1 441.6 L794.1 442.6 L795.1 443.6 L796.1 444.6 L797.1 445.7 L798.1 446.7 L799.1 447.7" stroke="#00008c" stroke-width="1.6" />
<path d="M114.6 527.0 L114.6 517.5" stroke="#0000bc" stroke-width="1.5" />
<path d="M123.8 497.4 L125.3 427.8 L126.7 449.0 L127.9 445.5 L128.8 489.2 L130.2 449.0 L131.9 471.4 L133.1 460.8 L134.5 495.3 L135.9 470.3 L137.3 484.4 L139.0 528.1 L140.1 528.1 L141.8 452.6 L143.2 486.8 L144.1 458.5 L145.3 492.2 L149.1 420.7 L151.2 458.5 L153.8 397.1 L155.5 401.8 L157.4 430.1 L159.0 418.3 L161.9 440.0 L163.0 423.1 L164.8 436.7 L167.3 404.2 L168.9 406.5 L170.4 392.4 L171.4 406.8 L172.4 392.6 L173.2 390.2 L174.6 383.5 L175.8 372.5 L176.8 350.6 L177.9 316.9 L178.3 268.6 L179.4 213.8 L180.3 190.8 L181.0 184.2 L182.1 190.8 L182.9 224.8 L184.9 268.6 L185.2 300.0 L185.9 316.9 L187.2 347.2 L188.1 370.0 L189.9 358.2 L191.9 395.3 L193.6 360.7 L194.8 375.9 L197.3 361.6 L198.2 365.8 L199.4 355.7 L200.4 337.9 L201.6 348.9 L202.7 354.8 L204.6 340.5 L206.3 343.0 L208.0 372.5 L210.0 354.0 L212.0 352.3 L213.7 374.2 L215.9 361.6 L217.1 360.7 L218.9 380.1 L221.0 367.5 L224.0 356.5 L226.0 372.5 L227.7 345.5 L229.4 338.8 L231.9 340.5 L234.1 341.3 L236.1 332.0 L237.8 300.0 L239.3 279.1 L241.7 300.0 L243.7 321.9 L245.9 343.9 L247.9 344.7 L250.5 345.5 L253.0 355.7 L255.5 348.9 L258.9 348.9 L260.6 358.2 L262.3 354.0 L266.5 351.4 L269.0 358.2 L270.7 343.9 L272.4 333.7 L274.1 300.0 L273.4 297.5 L275.1 268.8 L276.4 261.2 L277.6 273.9 L280.1 314.3 L281.6 330.0 L283.2 346.9 L285.8 338.4 L287.5 330.0 L289.4 311.0 L291.9 303.4 L293.6 307.6 L296.1 316.9 L299.5 320.2 L302.0 317.7 L303.7 311.8 L305.1 316.0 L306.3 312.6 L309.1 318.5 L311.3 312.6 L314.7 299.2 L315.9 301.7 L318.1 294.1 L319.4 263.7 L321.1 242.6 L322.8 251.9 L324.8 280.6 L328.2 302.5 L330.7 301.7 L332.4 304.2 L334.1 303.4 L334.9 299.5 L337.0 299.8 L338.0 296.1 L340.2 295.4 L341.2 292.4 L343.4 290.4 L344.5 285.0 L345.1 278.9 L347.6 265.4 L349.3 264.6 L350.1 278.9 L354.3 294.1" stroke="#0000bc" stroke-width="1.6" />
<path d="M344.2 282.3 L354.3 265.4 L361.9 252.8 L362.8 250.0 L365.3 229.3 L367.0 219.2 L368.7 222.5 L370.4 231.0 L372.9 228.4 L380.5 214.1 L388.9 198.1 L395.7 188.8 L400.7 179.5 L404.9 176.1 L407.5 165.2 L408.8 146.0 L410.5 142.6 L412.5 156.1 L415.1 159.5 L417.6 154.5 L431.1 127.5 L432.8 119.9 L435.3 121.6 L438.7 116.5 L441.7 122.4 L446.3 117.3 L450.5 124.9 L454.7 121.6 L458.1 124.9 L461.4 125.8 L464.8 129.2 L469.9 128.3 L474.9 130.0 L476.7 128.3 L480.1 125.8 L481.8 117.3 L483.5 90.4 L485.2 73.5 L486.9 81.9 L489.4 110.6 L491.6 129.2 L497.0 129.5 L503.7 130.5 L508.8 129.5 L513.0 130.0 L515.5 128.8 L529.0 128.3 L529.9 127.1 L530.7 129.2 L533.2 126.6 L534.9 128.3 L540.8 126.1 L543.4 111.4 L545.4 109.8 L547.6 119.0 L549.8 123.8 L551.8 97.1 L554.0 82.8 L556.0 90.4 L557.7 105.5 L559.4 125.8 L561.1 122.4 L563.6 125.8 L565.3 129.2 L568.7 125.8 L571.2 126.6 L571.7 123.2 L572.5 132.5 L573.2 123.2 L574.6 122.4 L574.9 137.6 L576.6 135.1" stroke="#0000bc" stroke-width="1.6" />
<path d="M103.5 483.8 L104.5 483.2 L105.5 482.6 L106.5 482.0 L107.5 481.4 L108.5 480.8 L109.5 480.2 L110.5 479.5 L111.5 478.9 L112.5 478.3 L113.5 477.7 L114.5 477.0 L115.5 476.4 L116.5 475.7 L117.5 475.0 L118.5 474.4 L119.5 473.7 L120.5 473.0 L121.5 472.3 L122.5 471.6 L123.5 470.9 L123.6 470.8 L124.5 470.1 L125.5 469.4 L126.5 468.7 L127.5 467.9 L128.5 467.2 L129.5 466.4 L130.5 465.7 L131.5 464.9 L132.5 464.1 L133.5 463.4 L134.5 462.6 L135.4 461.9 L135.5 461.8 L136.6 461.0 L137.6 460.2 L138.6 459.4 L139.6 458.6 L140.6 457.8 L141.6 457.0 L142.6 456.2 L143.6 455.4 L144.6 454.6 L145.6 453.8 L146.6 453.0 L147.2 452.5 L147.6 452.2 L148.6 451.4 L149.6 450.6 L150.6 449.8 L151.6 449.0 L152.6 448.2 L153.6 447.4 L154.6 446.6 L155.6 445.8 L156.6 445.0 L157.6 444.2 L158.6 443.4 L159.1 443.0 L159.6 442.6 L160.6 441.8 L161.6 441.0 L162.6 440.2 L163.6 439.4 L164.6 438.6 L165.6 437.8 L166.6 437.0 L167.6 436.2 L168.6 435.4 L169.6 434.6 L170.6 433.8 L170.9 433.6 L171.6 433.0 L172.6 432.3 L173.6 431.5 L174.6 430.7 L175.6 430.0 L176.6 429.2 L177.6 428.5 L178.6 427.7 L179.6 427.0 L180.0 426.7 L180.6 426.2 L181.6 425.5 L182.6 424.7 L183.6 424.0 L184.6 423.2 L185.6 422.5 L186.6 421.7 L187.6 421.0 L188.6 420.2 L189.6 419.5 L190.6 418.8 L191.6 418.0 L191.8 417.9 L192.6 417.3 L193.6 416.6 L194.6 415.9 L195.6 415.2 L196.6 414.6 L197.6 413.9 L198.6 413.3 L199.6 412.7 L200.6 412.0 L201.7 411.4 L202.7 410.8 L203.6 410.2 L203.7 410.2 L204.7 409.6 L205.7 408.9 L206.7 408.3 L207.7 407.7 L208.7 407.1 L209.7 406.5 L210.7 405.9 L211.7 405.4 L212.7 404.8 L213.7 404.2 L214.7 403.5 L215.4 403.1 L215.7 402.9 L216.7 402.3 L217.7 401.7 L218.7 401.0 L219.7 400.4 L220.7 399.8 L221.7 399.1 L222.7 398.4 L223.7 397.8 L224.7 397.1 L225.7 396.4 L226.7 395.7 L227.2 395.4 L227.7 395.1 L228.7 394.3 L229.7 393.6 L230.7 392.7 L231.7 391.9 L232.7 391.0 L233.7 390.1 L234.3 389.5 L234.7 389.1 L235.7 388.1 L236.7 387.1 L237.7 386.0 L238.7 384.9 L239.7 383.7 L240.7 382.6 L241.4 381.8 L241.7 381.4 L242.7 380.2 L243.7 378.9 L244.7 377.6 L245.7 376.3 L246.7 375.1 L247.7 373.9 L248.5 373.0 L248.7 372.8 L249.7 371.7 L250.7 370.8 L251.7 369.8 L252.7 368.9 L253.7 368.0 L254.7 367.2 L255.6 366.5 L255.7 366.4 L256.7 365.6 L257.7 364.8 L258.7 364.0 L259.7 363.2 L260.7 362.4 L261.7 361.6 L262.7 360.9 L263.7 360.1 L263.9 360.0 L264.7 359.4 L265.7 358.7 L266.8 358.0 L267.8 357.3 L268.8 356.6 L269.8 355.9 L270.8 355.2 L271.8 354.5 L272.7 353.8 L272.8 353.8 L273.8 353.0 L274.8 352.2 L275.8 351.3 L276.8 350.5 L277.8 349.6 L278.8 348.7 L279.8 347.7 L280.8 346.8 L281.8 345.8 L282.8 344.8 L283.3 344.3 L283.8 343.8 L284.8 342.8 L285.8 341.7 L286.8 340.6 L287.8 339.5 L288.8 338.4 L289.8 337.3 L290.4 336.7 L290.8 336.3 L291.8 335.3 L292.8 334.3 L293.8 333.3 L294.8 332.3 L295.8 331.5 L296.8 330.7 L297.5 330.2 L297.8 330.0 L298.8 329.4 L299.8 328.8 L300.8 328.3 L301.8 327.8 L302.8 327.3 L303.8 326.8 L304.6 326.4 L304.8 326.3 L305.8 325.8 L306.8 325.4 L307.8 325.0 L308.8 324.5 L309.8 324.1 L310.5 323.7 L310.8 323.5 L311.8 322.9 L312.8 322.2 L313.8 321.3 L314.8 320.4 L315.8 319.5 L316.4 318.9 L316.8 318.5 L317.8 317.4 L318.8 316.4 L319.8 315.3 L320.8 314.3 L321.8 313.2 L322.8 312.1 L323.5 311.3 L323.8 310.9 L324.8 309.8 L325.8 308.6 L326.8 307.4 L327.8 306.3 L328.8 305.1 L329.8 303.9 L330.6 303.0 L330.8 302.7 L331.8 301.5 L332.9 300.3 L333.9 299.1 L334.9 297.8 L335.9 296.6 L336.9 295.3 L337.7 294.2 L337.9 294.0 L338.9 292.6 L339.9 291.2 L340.9 289.6 L341.9 288.1 L342.9 286.4 L343.9 284.7 L344.0 284.5 L344.9 283.0 L345.9 281.3 L346.9 279.6 L347.9 277.8 L348.9 276.0 L349.9 274.2 L350.9 272.4 L351.0 272.2 L351.9 270.6 L352.9 268.7 L353.9 266.9 L354.9 265.0 L355.9 263.2 L356.9 261.4 L357.9 259.5 L358.9 257.7 L359.9 255.8 L360.9 254.0 L361.1 253.6 L361.9 252.1 L362.9 250.3 L363.9 248.5 L364.9 246.6 L365.9 244.8 L366.9 243.0 L367.9 241.2 L368.9 239.3 L369.9 237.5 L370.9 235.6 L371.2 235.1 L371.9 233.8 L372.9 231.8 L373.9 229.9 L374.9 227.9 L375.9 225.8 L376.9 223.8 L377.9 221.7 L378.9 219.7 L379.9 217.7 L380.0 217.5 L380.9 215.6 L381.9 213.5 L382.9 211.4 L383.9 209.2 L384.9 207.1 L385.9 204.9 L386.9 202.8 L387.9 200.7 L388.9 198.7 L389.9 196.7 L390.6 195.5 L390.9 194.9 L391.9 193.1 L392.9 191.4 L393.9 189.8 L394.9 188.1 L395.9 186.6 L396.9 185.0 L398.0 183.4 L399.0 181.7 L400.0 180.1 L400.0 180.0 L401.0 178.4 L402.0 176.7 L403.0 175.0 L404.0 173.3 L405.0 171.6 L406.0 170.0 L407.0 168.3 L408.0 166.5 L409.0 164.8 L410.0 163.1 L411.0 161.3 L411.7 160.0 L412.0 159.5 L413.0 157.7 L414.0 155.9 L415.0 154.0 L416.0 152.1 L417.0 150.3 L418.0 148.4 L418.4 147.6 L419.0 146.5 L420.0 144.6 L421.0 142.7 L422.0 140.9 L423.0 139.0 L424.0 137.1 L425.0 135.2 L426.0 133.3 L427.0 131.4 L428.0 129.5 L429.0 127.6 L430.0 125.7 L435.5 125.7 L438.6 128.7 L439.6 128.8 L440.6 128.9 L441.6 128.9 L442.6 129.0 L443.6 129.1 L444.6 129.2 L445.6 129.3 L446.6 129.3 L447.6 129.4 L448.6 129.5 L449.6 129.6 L450.0 129.6 L450.6 129.6 L451.6 129.7 L452.6 129.8 L453.6 129.9 L454.6 130.0 L455.6 130.1 L456.6 130.2 L457.6 130.2 L458.6 130.3 L459.6 130.4 L460.6 130.5 L461.6 130.6 L462.6 130.6 L463.6 130.7 L464.6 130.8 L464.8 130.8 L465.6 130.8 L466.6 130.8 L467.6 130.7 L468.6 130.6 L469.6 130.5 L470.0 130.5 L470.6 130.5 L471.6 130.4 L472.6 130.4 L473.6 130.3 L474.7 130.3 L475.7 130.2 L476.7 130.2 L477.7 130.1 L478.7 130.1 L479.7 130.1 L480.7 130.0 L481.7 130.0 L482.7 130.0 L483.5 130.0 L483.7 130.0 L484.7 130.0 L485.7 130.1 L486.7 130.1 L487.7 130.2 L488.7 130.3 L489.7 130.4 L490.7 130.5 L491.7 130.7 L492.7 130.8 L493.7 130.9 L494.7 131.1 L495.7 131.2 L496.7 131.3 L497.7 131.4 L498.7 131.5 L499.7 131.6 L500.4 131.7 L500.7 131.7 L501.7 131.8 L502.7 131.9 L503.7 131.9 L504.7 132.0 L505.7 132.1 L506.7 132.1 L507.7 132.2 L508.7 132.2 L509.7 132.3 L510.7 132.3 L511.7 132.4 L512.7 132.4 L513.7 132.4 L514.7 132.5 L515.7 132.5 L516.7 132.5 L517.2 132.5 L517.7 132.5 L518.7 132.5 L519.7 132.4 L520.7 132.3 L521.7 132.2 L522.7 132.0 L523.7 131.9 L524.7 131.7 L525.7 131.5 L526.7 131.3 L527.7 131.1 L528.7 130.9 L529.7 130.7 L530.7 130.5 L530.7 130.5 L531.7 130.2 L532.7 129.9 L533.7 129.4 L534.7 128.9 L535.7 128.4 L536.7 127.8 L537.7 127.3 L538.7 126.9 L539.7 126.6 L540.7 126.3 L541.7 126.3 L542.5 126.3 L542.7 126.3 L543.7 126.6 L544.7 126.9 L545.7 127.3 L546.8 127.7 L547.8 128.1 L548.8 128.6 L549.8 129.0 L550.8 129.4 L551.0 129.5 L551.8 129.8 L552.8 130.1 L553.8 130.4 L554.8 130.8 L555.8 131.1 L556.8 131.4 L557.8 131.7 L558.8 131.9 L559.8 132.2 L560.8 132.3 L561.8 132.5 L561.9 132.5 L562.8 132.4 L563.8 132.0 L564.8 131.3 L565.8 130.4 L566.8 129.5 L567.8 128.6 L568.8 127.9 L569.5 127.5 L569.8 127.4 L570.8 126.9 L571.8 126.4 L572.8 126.0 L573.8 125.7 L574.8 125.4 L575.8 125.4 L576.8 125.6 L577.8 126.0 L577.9 126.1 L578.8 126.8 L579.8 127.7 L580.8 128.7 L581.8 129.7 L582.2 130.0 L582.8 130.5 L583.8 131.4 L584.8 132.2 L585.8 132.9 L586.8 133.5 L587.2 133.7 L587.8 133.9 L588.8 134.2 L589.8 134.4 L590.8 134.5 L591.8 134.5 L592.8 134.5 L593.8 134.4 L594.8 134.3 L595.8 134.2 L596.8 134.0 L597.8 133.9 L598.2 133.9 L598.8 133.8 L599.8 133.6 L600.8 133.3 L601.8 133.1 L602.8 132.9 L603.8 132.9 L604.1 132.9 L604.8 133.0 L605.8 133.3 L606.8 133.6 L607.8 134.0 L608.8 134.5 L609.8 134.9 L610.0 135.0 L610.8 135.4 L611.8 136.0 L612.8 136.6 L613.8 137.2 L614.8 137.8 L615.8 138.3 L616.8 138.8 L617.7 139.1 L617.8 139.2 L618.9 139.5 L619.9 139.8 L620.9 140.0 L621.9 140.2 L622.9 140.4 L623.9 140.6 L624.9 140.8 L625.9 140.9 L626.9 141.1 L627.9 141.2 L628.9 141.4 L629.9 141.5 L630.4 141.6 L630.9 141.7 L631.9 141.8 L632.9 141.9 L633.9 142.0 L634.9 142.1 L635.9 142.1 L636.9 142.1 L637.9 142.1 L638.0 142.1 L638.9 141.8 L639.9 141.1 L640.5 140.9 L640.9 140.9 L641.9 140.8 L642.9 140.7 L643.9 140.7 L644.9 140.7 L645.9 140.8 L646.9 140.9 L647.9 141.0 L648.9 141.2 L649.9 141.4 L650.6 141.6 L650.9 141.7 L651.9 142.0 L652.9 142.3 L653.9 142.6 L654.9 142.9 L655.9 143.2 L656.9 143.5 L657.9 143.8 L658.9 144.1 L659.9 144.4 L660.9 144.7 L661.9 145.0 L662.9 145.3 L663.9 145.6 L664.9 145.9 L665.9 146.2 L666.9 146.5 L667.9 146.8 L668.9 147.1 L669.9 147.4 L670.9 147.7 L671.9 148.0 L672.9 148.3 L673.9 148.6 L674.9 148.9 L675.9 149.2 L675.9 149.2 L676.9 149.5 L677.9 149.8 L678.9 150.1 L679.9 150.4 L680.9 150.7 L681.9 151.0 L682.9 151.3 L683.9 151.6 L684.9 151.9 L685.9 152.2 L686.9 152.5 L687.9 152.8 L688.9 153.1 L689.9 153.4 L691.0 153.7 L692.0 154.0 L693.0 154.3 L694.0 154.6 L695.0 154.9 L696.0 155.2 L697.0 155.5 L698.0 155.8 L699.0 156.1 L700.0 156.4 L701.0 156.7 L701.2 156.8 L702.0 157.0 L703.0 157.4 L704.0 157.7 L705.0 158.0 L706.0 158.4 L707.0 158.7 L708.0 159.1 L709.0 159.5 L710.0 159.9 L711.0 160.3 L712.0 160.7 L713.0 161.1 L714.0 161.5 L715.0 161.9 L716.0 162.3 L717.0 162.8 L718.0 163.2 L719.0 163.6 L720.0 164.1 L721.0 164.5 L722.0 164.9 L723.0 165.4 L724.0 165.8 L725.0 166.2 L726.0 166.7 L726.5 166.9 L727.0 167.1 L728.0 167.6 L729.0 168.0 L730.0 168.4 L731.0 168.9 L732.0 169.3 L733.0 169.7 L734.0 170.2 L735.0 170.6 L736.0 171.1 L737.0 171.5 L738.0 172.0 L739.0 172.4 L740.0 172.9 L741.0 173.3 L742.0 173.8 L743.0 174.2 L744.0 174.7 L745.0 175.1 L746.0 175.6 L747.0 176.1 L748.0 176.5 L749.0 177.0 L750.0 177.5 L751.0 177.9 L751.8 178.3 L752.0 178.4 L753.0 178.9 L754.0 179.4 L755.0 179.9 L756.0 180.3 L757.0 180.8 L758.0 181.3 L759.0 181.8 L760.0 182.3 L761.0 182.8 L762.0 183.3 L763.0 183.8 L764.1 184.3 L765.1 184.8 L766.1 185.3 L767.1 185.8 L768.1 186.3 L769.1 186.8 L770.1 187.3 L771.1 187.9 L772.1 188.4 L773.1 188.9 L774.1 189.4 L775.1 189.9 L776.1 190.5 L777.1 191.0 L777.1 191.0 L778.1 191.5 L779.1 192.0 L780.1 192.6 L781.1 193.1 L782.1 193.6 L783.1 194.2 L784.1 194.7 L785.1 195.3 L786.1 195.8 L787.1 196.4 L788.1 196.9 L789.1 197.5 L790.1 198.0 L791.1 198.6 L792.1 199.1 L793.1 199.7 L794.1 200.3 L795.1 200.8 L796.1 201.4 L797.1 202.0 L798.1 202.5 L799.1 203.1" stroke="#e40000" stroke-width="2.3" />
</g>
<g fill="none">
<rect x="103.8" y="32.6" width="695.3" height="494.5" fill="none" stroke="#0808c4" stroke-width="1.0"/>
<path d="M103.8 527.1 v-4.9 M103.8 32.6 v4.9 M146.1 527.1 v-4.9 M146.1 32.6 v4.9 M181.9 527.1 v-4.9 M181.9 32.6 v4.9 M212.9 527.1 v-4.9 M212.9 32.6 v4.9 M240.2 527.1 v-4.9 M240.2 32.6 v4.9 M264.7 527.1 v-9.9 M264.7 32.6 v9.9 M425.6 527.1 v-4.9 M425.6 32.6 v4.9 M519.7 527.1 v-4.9 M519.7 32.6 v4.9 M586.4 527.1 v-4.9 M586.4 32.6 v4.9 M638.2 527.1 v-4.9 M638.2 32.6 v4.9 M680.5 527.1 v-4.9 M680.5 32.6 v4.9 M716.3 527.1 v-4.9 M716.3 32.6 v4.9 M747.3 527.1 v-4.9 M747.3 32.6 v4.9 M774.6 527.1 v-4.9 M774.6 32.6 v4.9 M799.1 527.1 v-9.9 M799.1 32.6 v9.9 M103.8 527.1 h6.9 M799.1 527.1 h-6.9 M103.8 506.5 h6.9 M799.1 506.5 h-6.9 M103.8 490.5 h6.9 M799.1 490.5 h-6.9 M103.8 477.5 h6.9 M799.1 477.5 h-6.9 M103.8 466.4 h6.9 M799.1 466.4 h-6.9 M103.8 456.9 h6.9 M799.1 456.9 h-6.9 M103.8 448.5 h6.9 M799.1 448.5 h-6.9 M103.8 440.9 h13.9 M799.1 440.9 h-13.9 M103.8 391.3 h6.9 M799.1 391.3 h-6.9 M103.8 362.3 h6.9 M799.1 362.3 h-6.9 M103.8 341.7 h6.9 M799.1 341.7 h-6.9 M103.8 325.7 h6.9 M799.1 325.7 h-6.9 M103.8 312.6 h6.9 M799.1 312.6 h-6.9 M103.8 301.6 h6.9 M799.1 301.6 h-6.9 M103.8 292.1 h6.9 M799.1 292.1 h-6.9 M103.8 283.6 h6.9 M799.1 283.6 h-6.9 M103.8 276.1 h13.9 M799.1 276.1 h-13.9 M103.8 226.5 h6.9 M799.1 226.5 h-6.9 M103.8 197.4 h6.9 M799.1 197.4 h-6.9 M103.8 176.8 h6.9 M799.1 176.8 h-6.9 M103.8 160.9 h6.9 M799.1 160.9 h-6.9 M103.8 147.8 h6.9 M799.1 147.8 h-6.9 M103.8 136.8 h6.9 M799.1 136.8 h-6.9 M103.8 127.2 h6.9 M799.1 127.2 h-6.9 M103.8 118.8 h6.9 M799.1 118.8 h-6.9 M103.8 111.2 h13.9 M799.1 111.2 h-13.9 M103.8 61.6 h6.9 M799.1 61.6 h-6.9 M103.8 32.6 h6.9 M799.1 32.6 h-6.9" stroke="#0808c4" stroke-width="1.0"/>
</g>
<g style="opacity:0.999">
<text x="97.6" y="118.2" text-anchor="end" font-family="Liberation Sans, sans-serif" font-size="17.1" fill="#0000c0" stroke="#0000c0" stroke-width="0.55">100</text>
<text x="97.6" y="283.1" text-anchor="end" font-family="Liberation Sans, sans-serif" font-size="17.1" fill="#0000c0" stroke="#0000c0" stroke-width="0.55">10</text>
<text x="97.6" y="447.9" text-anchor="end" font-family="Liberation Sans, sans-serif" font-size="17.1" fill="#0000c0" stroke="#0000c0" stroke-width="0.55">1</text>
<text x="264.7" y="552.4" text-anchor="middle" font-family="Liberation Sans, sans-serif" font-size="17.1" fill="#0000c0" stroke="#0000c0" stroke-width="0.55">10</text>
<text x="799.1" y="552.4" text-anchor="middle" font-family="Liberation Sans, sans-serif" font-size="17.1" fill="#0000c0" stroke="#0000c0" stroke-width="0.55">100</text>
<text transform="translate(373.12,573.6) scale(1.000,1)" font-family="Liberation Serif, serif" font-size="18.4" font-weight="bold" fill="#0000c0" stroke="#0000c0" stroke-width="0.25" stroke-linejoin="round" letter-spacing="0.80">Wavelength</text><text transform="translate(486.28,573.6) scale(0.479,1)" font-family="Liberation Serif, serif" font-size="20.6" font-weight="bold" fill="#0000c0" stroke="#0000c0" stroke-width="2.48" stroke-linejoin="round">(</text><text transform="translate(493.38,573.6) scale(0.959,1)" font-family="Liberation Serif, serif" font-size="18.4" font-weight="bold" fill="#0000c0" stroke="#0000c0" stroke-width="0.26" stroke-linejoin="round" font-style="italic">μ</text><text transform="translate(505.02,573.6) scale(1.023,1)" font-family="Liberation Serif, serif" font-size="18.4" font-weight="bold" fill="#0000c0" stroke="#0000c0" stroke-width="0.25" stroke-linejoin="round">m</text><text transform="translate(524.68,573.6) scale(0.592,1)" font-family="Liberation Serif, serif" font-size="20.6" font-weight="bold" fill="#0000c0" stroke="#0000c0" stroke-width="1.88" stroke-linejoin="round">)</text>
<g transform="translate(51,414) rotate(-90)"><text transform="translate(0.53,0.0) scale(1.000,1)" font-family="Liberation Serif, serif" font-size="18.4" font-weight="bold" fill="#0000c0" stroke="#0000c0" stroke-width="0.25" stroke-linejoin="round" letter-spacing="1.61">Surface</text><text transform="translate(80.62,0.0) scale(1.000,1)" font-family="Liberation Serif, serif" font-size="18.4" font-weight="bold" fill="#0000c0" stroke="#0000c0" stroke-width="0.25" stroke-linejoin="round" letter-spacing="1.46">Brightness</text><text transform="translate(189.67,0.0) scale(0.636,1)" font-family="Liberation Serif, serif" font-size="20.6" font-weight="bold" fill="#0000c0" stroke="#0000c0" stroke-width="1.71" stroke-linejoin="round">(</text><text transform="translate(197.22,0.0) scale(1.000,1)" font-family="Liberation Serif, serif" font-size="18.4" font-weight="bold" fill="#0000c0" stroke="#0000c0" stroke-width="0.25" stroke-linejoin="round" letter-spacing="0.43">MJy/sr</text><text transform="translate(258.48,0.0) scale(0.742,1)" font-family="Liberation Serif, serif" font-size="20.6" font-weight="bold" fill="#0000c0" stroke="#0000c0" stroke-width="1.40" stroke-linejoin="round">)</text></g>
</g>
</svg>
</body></html>
